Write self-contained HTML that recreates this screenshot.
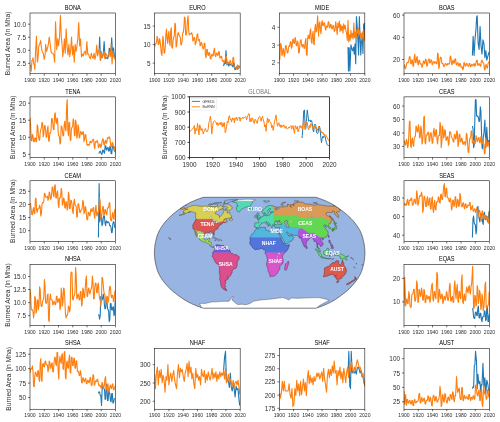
<!DOCTYPE html>
<html><head><meta charset="utf-8"><style>
html,body{margin:0;padding:0;background:#fff;width:500px;height:422px;overflow:hidden}
svg{display:block;will-change:transform}
text{font-family:"Liberation Sans", sans-serif}
</style></head><body>
<svg width="500" height="422" viewBox="0 0 500 422" fill="#2e2e2e" font-family='"Liberation Sans", sans-serif'>
<rect width="500" height="422" fill="#fff"/>
<clipPath id="c_BONA"><rect x="30.00" y="13.00" width="85.50" height="60.75"/></clipPath>
<g clip-path="url(#c_BONA)">
<polyline points="99.10,51.40 99.64,37.00 100.54,60.40 101.44,53.20 102.34,57.70 103.24,54.10 104.14,41.50 105.04,56.80 105.94,58.60 106.84,57.70 107.74,58.60 108.64,55.00 109.27,48.36 109.90,48.70 110.80,55.90 111.70,37.90 112.60,56.80 113.50,47.80 114.40,55.90 115.12,57.70" fill="none" stroke="#1f77b4" stroke-width="1.10" stroke-linejoin="round" stroke-linecap="butt"/>
<polyline points="30.16,65.80 30.70,65.22 31.24,71.20 31.96,60.40 32.50,60.23 33.04,57.70 33.76,64.00 34.30,64.40 34.84,69.40 35.56,51.40 36.46,36.10 37.36,62.20 37.90,59.50 38.80,46.00 39.70,44.20 40.60,40.60 41.50,47.80 42.40,52.30 43.30,53.20 44.20,59.50 45.10,55.00 45.64,44.20 46.54,51.40 47.44,48.70 48.34,44.20 49.24,37.00 50.14,43.30 51.04,51.40 51.94,53.20 52.84,53.20 53.74,55.00 54.64,62.20 55.54,21.70 56.26,38.80 56.80,49.60 57.70,38.80 58.60,46.00 59.50,37.00 60.40,15.40 61.30,37.00 62.20,46.00 62.74,56.80 63.64,49.60 64.36,38.80 65.26,53.20 66.16,28.90 67.06,46.00 67.96,55.00 68.86,44.20 69.76,56.80 70.66,49.60 71.56,37.00 72.46,55.00 73.36,46.00 74.26,62.20 75.16,44.20 76.06,51.40 76.96,46.00 77.86,37.90 78.76,22.60 79.66,46.00 80.56,38.80 81.46,56.80 82.36,54.10 83.26,55.90 84.16,52.30 85.06,51.40 85.96,55.00 86.86,41.50 87.76,54.10 88.66,54.10 89.56,57.70 90.46,58.60 91.36,53.20 92.26,56.80 93.16,58.60 94.06,53.20 94.96,59.50 95.86,55.00 96.76,45.10 97.66,55.90 98.56,51.40 99.46,48.70 100.36,60.40 101.26,51.40 102.16,57.70 103.06,55.00 103.96,51.40 104.86,58.60 105.76,53.20 106.66,55.00 107.56,57.70 108.46,55.00 109.36,52.30 110.26,56.80 111.16,44.20 112.06,64.00 112.96,50.50 113.86,56.80 114.76,59.50" fill="none" stroke="#ff7f0e" stroke-width="1.10" stroke-linejoin="round" stroke-linecap="butt"/>
</g>
<rect x="30.00" y="13.00" width="85.50" height="60.75" fill="none" stroke="#000" stroke-width="0.55"/>
<line x1="28.00" y1="24.20" x2="30.00" y2="24.20" stroke="#000" stroke-width="0.55"/>
<text x="26.00" y="26.79" font-size="6.40" text-anchor="end">10.0</text>
<line x1="28.00" y1="37.20" x2="30.00" y2="37.20" stroke="#000" stroke-width="0.55"/>
<text x="26.00" y="39.79" font-size="6.40" text-anchor="end">7.5</text>
<line x1="28.00" y1="50.30" x2="30.00" y2="50.30" stroke="#000" stroke-width="0.55"/>
<text x="26.00" y="52.89" font-size="6.40" text-anchor="end">5.0</text>
<line x1="28.00" y1="63.30" x2="30.00" y2="63.30" stroke="#000" stroke-width="0.55"/>
<text x="26.00" y="65.89" font-size="6.40" text-anchor="end">2.5</text>
<line x1="30.00" y1="73.75" x2="30.00" y2="75.75" stroke="#000" stroke-width="0.55"/>
<text x="30.00" y="81.98" font-size="5.10" text-anchor="middle">1900</text>
<line x1="44.25" y1="73.75" x2="44.25" y2="75.75" stroke="#000" stroke-width="0.55"/>
<text x="44.25" y="81.98" font-size="5.10" text-anchor="middle">1920</text>
<line x1="58.50" y1="73.75" x2="58.50" y2="75.75" stroke="#000" stroke-width="0.55"/>
<text x="58.50" y="81.98" font-size="5.10" text-anchor="middle">1940</text>
<line x1="72.75" y1="73.75" x2="72.75" y2="75.75" stroke="#000" stroke-width="0.55"/>
<text x="72.75" y="81.98" font-size="5.10" text-anchor="middle">1960</text>
<line x1="87.00" y1="73.75" x2="87.00" y2="75.75" stroke="#000" stroke-width="0.55"/>
<text x="87.00" y="81.98" font-size="5.10" text-anchor="middle">1980</text>
<line x1="101.25" y1="73.75" x2="101.25" y2="75.75" stroke="#000" stroke-width="0.55"/>
<text x="101.25" y="81.98" font-size="5.10" text-anchor="middle">2000</text>
<line x1="115.50" y1="73.75" x2="115.50" y2="75.75" stroke="#000" stroke-width="0.55"/>
<text x="115.50" y="81.98" font-size="5.10" text-anchor="middle">2020</text>
<text x="0" y="0" font-size="6.3" text-anchor="middle" fill="#000" transform="translate(72.75,9.80) scale(0.9,1)">BONA</text>
<text x="0" y="0" font-size="6.7" text-anchor="middle" transform="translate(9.55,43.38) rotate(-90)">Burned Area (in Mha)</text>
<clipPath id="c_EURO"><rect x="154.67" y="13.00" width="85.50" height="60.75"/></clipPath>
<g clip-path="url(#c_EURO)">
<polyline points="223.60,66.20 224.20,63.09 224.80,63.80 225.40,63.30 226.00,50.60 226.96,65.00 227.92,62.60 228.88,66.20 229.48,63.70 230.08,63.80 230.68,65.00 231.28,65.00 231.88,64.78 232.48,66.20 233.08,67.01 233.68,62.60 234.28,64.29 234.88,69.80 235.48,69.58 236.08,67.40 236.68,66.91 237.28,68.60 237.88,69.22 238.48,66.20 239.08,66.04 239.68,67.40" fill="none" stroke="#1f77b4" stroke-width="1.10" stroke-linejoin="round" stroke-linecap="butt"/>
<polyline points="154.72,47.00 155.32,43.58 155.92,43.40 156.52,42.42 157.12,36.20 157.72,38.68 158.32,44.60 158.92,44.30 159.52,38.60 160.12,40.97 160.72,47.00 161.32,53.36 161.92,55.40 162.88,36.20 163.48,40.21 164.08,53.00 164.68,52.92 165.28,47.00 165.88,34.25 166.48,29.00 167.08,38.94 167.68,43.40 168.28,34.79 168.88,31.40 169.48,42.18 170.08,45.80 170.68,30.65 171.28,27.80 171.88,47.63 172.48,48.20 173.08,40.38 173.68,37.40 174.28,35.98 174.88,23.00 175.48,24.77 176.08,47.00 176.68,45.69 177.28,38.60 177.88,33.32 178.48,32.60 179.08,35.38 179.68,36.20 180.28,37.31 180.88,44.60 181.48,44.82 182.08,41.00 182.68,32.85 183.28,32.60 183.88,27.83 184.48,17.00 185.08,17.82 185.68,35.00 186.28,34.83 186.88,30.20 187.48,19.79 188.08,15.80 188.68,30.19 189.28,35.00 189.88,33.85 190.48,33.80 191.08,34.03 191.68,32.60 192.28,34.68 192.88,41.00 193.48,40.29 194.08,37.40 194.68,37.69 195.28,44.60 195.88,43.35 196.48,39.80 197.08,34.67 197.68,33.80 198.28,40.48 198.88,39.80 199.48,39.52 200.08,45.80 200.68,45.40 201.28,42.20 201.88,43.48 202.48,47.00 203.08,48.93 203.68,48.20 204.28,43.04 204.88,43.40 205.48,55.93 206.08,57.80 206.68,49.55 207.28,49.40 207.88,54.82 208.48,55.40 209.08,52.46 209.68,53.00 210.28,58.42 210.88,59.00 211.48,55.34 212.08,54.20 212.68,56.10 213.28,55.40 213.88,50.28 214.48,48.20 215.08,55.40 215.68,56.60 216.28,53.56 216.88,53.00 217.48,55.14 218.08,55.40 218.68,51.56 219.28,51.80 219.88,58.00 220.48,57.80 221.08,56.31 221.68,56.60 222.28,60.81 222.88,61.40 223.48,60.63 224.08,62.60 224.68,61.90 225.28,59.00 225.88,56.54 226.48,56.60 227.08,64.06 227.68,63.80 228.28,62.05 228.88,62.60 229.48,63.43 230.08,60.20 230.68,61.03 231.28,65.00 231.88,64.61 232.48,62.60 233.08,57.20 233.68,57.80 234.28,67.53 234.88,67.40 235.48,67.45 236.08,68.60 236.68,69.17 237.28,65.00 237.88,65.01 238.48,67.40 239.08,68.06 239.68,66.20" fill="none" stroke="#ff7f0e" stroke-width="1.10" stroke-linejoin="round" stroke-linecap="butt"/>
</g>
<rect x="154.67" y="13.00" width="85.50" height="60.75" fill="none" stroke="#000" stroke-width="0.55"/>
<line x1="152.67" y1="26.10" x2="154.67" y2="26.10" stroke="#000" stroke-width="0.55"/>
<text x="150.67" y="28.69" font-size="6.40" text-anchor="end">15</text>
<line x1="152.67" y1="44.60" x2="154.67" y2="44.60" stroke="#000" stroke-width="0.55"/>
<text x="150.67" y="47.19" font-size="6.40" text-anchor="end">10</text>
<line x1="152.67" y1="63.10" x2="154.67" y2="63.10" stroke="#000" stroke-width="0.55"/>
<text x="150.67" y="65.69" font-size="6.40" text-anchor="end">5</text>
<line x1="154.67" y1="73.75" x2="154.67" y2="75.75" stroke="#000" stroke-width="0.55"/>
<text x="154.67" y="81.98" font-size="5.10" text-anchor="middle">1900</text>
<line x1="168.92" y1="73.75" x2="168.92" y2="75.75" stroke="#000" stroke-width="0.55"/>
<text x="168.92" y="81.98" font-size="5.10" text-anchor="middle">1920</text>
<line x1="183.17" y1="73.75" x2="183.17" y2="75.75" stroke="#000" stroke-width="0.55"/>
<text x="183.17" y="81.98" font-size="5.10" text-anchor="middle">1940</text>
<line x1="197.42" y1="73.75" x2="197.42" y2="75.75" stroke="#000" stroke-width="0.55"/>
<text x="197.42" y="81.98" font-size="5.10" text-anchor="middle">1960</text>
<line x1="211.67" y1="73.75" x2="211.67" y2="75.75" stroke="#000" stroke-width="0.55"/>
<text x="211.67" y="81.98" font-size="5.10" text-anchor="middle">1980</text>
<line x1="225.92" y1="73.75" x2="225.92" y2="75.75" stroke="#000" stroke-width="0.55"/>
<text x="225.92" y="81.98" font-size="5.10" text-anchor="middle">2000</text>
<line x1="240.17" y1="73.75" x2="240.17" y2="75.75" stroke="#000" stroke-width="0.55"/>
<text x="240.17" y="81.98" font-size="5.10" text-anchor="middle">2020</text>
<text x="0" y="0" font-size="6.3" text-anchor="middle" fill="#000" transform="translate(197.42,9.80) scale(0.9,1)">EURO</text>
<clipPath id="c_MIDE"><rect x="279.33" y="13.00" width="85.50" height="60.75"/></clipPath>
<g clip-path="url(#c_MIDE)">
<polyline points="348.03,47.03 348.47,70.92 349.19,47.75 349.91,70.92 350.93,44.86 351.94,49.20 352.67,50.65 353.53,47.03 354.26,54.27 354.98,44.13 355.71,63.68 356.43,16.62 357.15,26.03 357.88,39.06 358.60,54.99 359.33,16.62 360.05,37.62 360.77,54.99 361.50,39.06 362.22,33.27 362.95,53.54 363.67,24.58 364.39,23.14 364.97,38.34" fill="none" stroke="#1f77b4" stroke-width="1.10" stroke-linejoin="round" stroke-linecap="butt"/>
<polyline points="279.72,60.20 280.68,43.40 281.28,44.85 281.88,55.40 282.48,54.15 283.08,48.20 283.68,50.36 284.28,56.60 284.88,53.89 285.48,45.80 286.08,45.63 286.68,49.40 287.28,52.99 287.88,53.00 288.48,47.84 289.08,45.80 289.68,46.32 290.28,42.20 290.88,41.64 291.48,48.20 292.08,46.56 292.68,39.80 293.28,39.01 293.88,43.40 294.48,43.44 295.08,37.40 295.68,39.81 296.28,45.80 296.88,45.61 297.48,41.00 298.08,43.39 298.68,53.00 299.28,52.66 299.88,44.60 300.48,40.08 301.08,39.80 301.68,45.41 302.28,47.00 302.88,44.82 303.48,44.60 304.08,48.46 304.68,48.20 305.28,41.10 305.88,38.60 306.48,54.44 307.08,55.40 307.68,38.14 308.28,35.00 308.88,38.46 309.48,38.60 310.08,30.97 310.68,29.00 311.28,41.30 311.88,43.40 312.48,34.73 313.08,31.40 313.68,44.08 314.28,44.60 314.88,28.59 315.48,24.20 316.08,31.97 316.68,31.40 317.64,15.80 318.60,36.20 319.20,23.82 319.80,21.80 320.40,30.21 321.00,33.80 321.60,23.38 322.20,20.60 322.80,25.73 323.40,25.40 324.00,22.63 324.60,23.00 325.20,28.39 325.80,30.20 326.40,25.81 327.00,26.60 327.60,27.24 328.20,21.80 328.80,21.76 329.40,27.80 330.00,27.62 330.60,24.20 331.20,24.96 331.80,29.00 332.40,28.75 333.00,25.40 333.60,25.89 334.20,31.40 335.00,30.38 335.72,21.69 336.45,27.48 337.17,34.72 337.90,23.14 338.62,27.48 339.34,20.96 340.07,31.82 340.79,24.58 341.52,30.38 342.24,26.03 342.96,33.27 343.69,23.86 344.41,28.93 345.14,25.31 345.86,30.38 346.58,33.27 347.31,40.51 348.03,20.24 348.76,41.96 349.48,34.72 350.20,40.51 350.93,30.38 351.65,37.62 352.38,33.27 353.10,39.06 353.82,23.14 354.55,37.62 355.27,31.82 356.00,38.34 356.72,30.38 357.44,33.27 358.17,28.20 358.89,34.72 359.62,30.38 360.34,36.89 361.06,33.27 361.79,40.51 362.51,31.82 363.24,38.34 363.96,28.93 364.68,40.51 364.92,33.80" fill="none" stroke="#ff7f0e" stroke-width="1.10" stroke-linejoin="round" stroke-linecap="butt"/>
</g>
<rect x="279.33" y="13.00" width="85.50" height="60.75" fill="none" stroke="#000" stroke-width="0.55"/>
<line x1="277.33" y1="27.30" x2="279.33" y2="27.30" stroke="#000" stroke-width="0.55"/>
<text x="275.33" y="29.89" font-size="6.40" text-anchor="end">4</text>
<line x1="277.33" y1="45.10" x2="279.33" y2="45.10" stroke="#000" stroke-width="0.55"/>
<text x="275.33" y="47.69" font-size="6.40" text-anchor="end">3</text>
<line x1="277.33" y1="62.80" x2="279.33" y2="62.80" stroke="#000" stroke-width="0.55"/>
<text x="275.33" y="65.39" font-size="6.40" text-anchor="end">2</text>
<line x1="279.33" y1="73.75" x2="279.33" y2="75.75" stroke="#000" stroke-width="0.55"/>
<text x="279.33" y="81.98" font-size="5.10" text-anchor="middle">1900</text>
<line x1="293.58" y1="73.75" x2="293.58" y2="75.75" stroke="#000" stroke-width="0.55"/>
<text x="293.58" y="81.98" font-size="5.10" text-anchor="middle">1920</text>
<line x1="307.83" y1="73.75" x2="307.83" y2="75.75" stroke="#000" stroke-width="0.55"/>
<text x="307.83" y="81.98" font-size="5.10" text-anchor="middle">1940</text>
<line x1="322.08" y1="73.75" x2="322.08" y2="75.75" stroke="#000" stroke-width="0.55"/>
<text x="322.08" y="81.98" font-size="5.10" text-anchor="middle">1960</text>
<line x1="336.33" y1="73.75" x2="336.33" y2="75.75" stroke="#000" stroke-width="0.55"/>
<text x="336.33" y="81.98" font-size="5.10" text-anchor="middle">1980</text>
<line x1="350.58" y1="73.75" x2="350.58" y2="75.75" stroke="#000" stroke-width="0.55"/>
<text x="350.58" y="81.98" font-size="5.10" text-anchor="middle">2000</text>
<line x1="364.83" y1="73.75" x2="364.83" y2="75.75" stroke="#000" stroke-width="0.55"/>
<text x="364.83" y="81.98" font-size="5.10" text-anchor="middle">2020</text>
<text x="0" y="0" font-size="6.3" text-anchor="middle" fill="#000" transform="translate(322.08,9.80) scale(0.9,1)">MIDE</text>
<clipPath id="c_BOAS"><rect x="404.00" y="13.00" width="85.50" height="60.75"/></clipPath>
<g clip-path="url(#c_BOAS)">
<polyline points="472.40,55.40 473.12,36.20 474.08,55.40 475.04,38.60 476.00,29.00 476.60,17.27 477.20,15.80 478.16,43.40 479.12,49.40 480.08,26.60 481.04,45.80 482.00,54.20 482.96,39.80 483.92,43.40 484.88,57.80 485.84,50.60 486.80,60.20 487.76,56.60 488.72,53.00 489.44,51.80" fill="none" stroke="#1f77b4" stroke-width="1.10" stroke-linejoin="round" stroke-linecap="butt"/>
<polyline points="404.00,65.00 404.60,65.07 405.20,68.60 405.80,67.91 406.40,65.00 407.00,62.40 407.60,62.60 408.20,62.68 408.80,60.20 409.40,56.73 410.00,56.60 410.60,63.36 411.20,63.80 411.80,59.76 412.40,60.20 413.00,66.29 413.60,66.20 414.20,57.11 414.80,54.20 415.40,62.57 416.00,62.60 416.60,57.77 417.20,56.60 417.80,64.00 418.40,65.00 419.00,60.18 419.60,60.20 420.20,64.13 420.80,63.80 421.40,63.82 422.00,67.40 422.60,65.80 423.20,61.40 423.80,60.84 424.40,63.80 425.00,62.86 425.60,59.00 426.20,59.93 426.80,66.20 427.40,65.45 428.00,61.40 428.60,59.02 429.20,59.00 429.80,63.11 430.40,62.60 431.00,59.74 431.60,60.20 432.20,64.60 432.80,63.80 433.40,61.68 434.00,61.40 434.60,63.12 435.20,62.60 435.80,61.93 436.40,63.80 437.00,63.62 437.60,53.00 438.20,53.94 438.80,68.60 439.40,66.31 440.00,59.00 440.60,57.17 441.20,57.80 441.80,62.93 442.40,63.80 443.00,63.44 443.60,66.20 444.20,66.59 444.80,65.00 445.40,63.59 446.00,63.80 446.60,65.18 447.20,65.00 447.80,63.39 448.40,63.80 449.00,64.20 449.60,63.80 450.20,56.00 450.80,56.60 451.40,62.53 452.00,65.00 452.60,60.93 453.20,60.20 453.80,63.48 454.40,62.60 455.00,58.78 455.60,59.00 456.20,64.64 456.80,65.00 457.40,62.98 458.00,62.60 458.60,65.75 459.20,66.20 459.80,63.31 460.40,63.80 461.00,67.16 461.60,67.40 462.20,66.87 462.80,69.80 463.40,68.25 464.00,62.60 464.60,62.88 465.20,66.20 465.80,65.87 466.40,63.80 467.00,63.29 467.60,65.00 468.20,66.39 468.80,66.20 469.40,63.42 470.00,63.80 470.60,66.70 471.20,66.20 471.80,64.21 472.40,65.00 473.00,65.90 473.60,63.80 474.20,63.68 474.80,66.20 475.40,65.70 476.00,62.60 476.60,60.31 477.20,60.20 477.80,65.39 478.40,65.00 479.00,63.67 479.60,63.80 480.20,66.15 480.80,66.20 481.40,60.77 482.00,60.20 482.60,62.20 483.20,62.60 483.80,63.44 484.40,69.80 485.00,69.82 485.60,65.00 486.20,64.58 486.80,67.40 487.40,68.14 488.00,63.80 488.60,62.10 489.20,62.60" fill="none" stroke="#ff7f0e" stroke-width="1.10" stroke-linejoin="round" stroke-linecap="butt"/>
</g>
<rect x="404.00" y="13.00" width="85.50" height="60.75" fill="none" stroke="#000" stroke-width="0.55"/>
<line x1="402.00" y1="15.10" x2="404.00" y2="15.10" stroke="#000" stroke-width="0.55"/>
<text x="400.00" y="17.69" font-size="6.40" text-anchor="end">60</text>
<line x1="402.00" y1="37.30" x2="404.00" y2="37.30" stroke="#000" stroke-width="0.55"/>
<text x="400.00" y="39.89" font-size="6.40" text-anchor="end">40</text>
<line x1="402.00" y1="59.50" x2="404.00" y2="59.50" stroke="#000" stroke-width="0.55"/>
<text x="400.00" y="62.09" font-size="6.40" text-anchor="end">20</text>
<line x1="404.00" y1="73.75" x2="404.00" y2="75.75" stroke="#000" stroke-width="0.55"/>
<text x="404.00" y="81.98" font-size="5.10" text-anchor="middle">1900</text>
<line x1="418.25" y1="73.75" x2="418.25" y2="75.75" stroke="#000" stroke-width="0.55"/>
<text x="418.25" y="81.98" font-size="5.10" text-anchor="middle">1920</text>
<line x1="432.50" y1="73.75" x2="432.50" y2="75.75" stroke="#000" stroke-width="0.55"/>
<text x="432.50" y="81.98" font-size="5.10" text-anchor="middle">1940</text>
<line x1="446.75" y1="73.75" x2="446.75" y2="75.75" stroke="#000" stroke-width="0.55"/>
<text x="446.75" y="81.98" font-size="5.10" text-anchor="middle">1960</text>
<line x1="461.00" y1="73.75" x2="461.00" y2="75.75" stroke="#000" stroke-width="0.55"/>
<text x="461.00" y="81.98" font-size="5.10" text-anchor="middle">1980</text>
<line x1="475.25" y1="73.75" x2="475.25" y2="75.75" stroke="#000" stroke-width="0.55"/>
<text x="475.25" y="81.98" font-size="5.10" text-anchor="middle">2000</text>
<line x1="489.50" y1="73.75" x2="489.50" y2="75.75" stroke="#000" stroke-width="0.55"/>
<text x="489.50" y="81.98" font-size="5.10" text-anchor="middle">2020</text>
<text x="0" y="0" font-size="6.3" text-anchor="middle" fill="#000" transform="translate(446.75,9.80) scale(0.9,1)">BOAS</text>
<clipPath id="c_TENA"><rect x="30.00" y="96.88" width="85.50" height="60.75"/></clipPath>
<g clip-path="url(#c_TENA)">
<polyline points="98.88,153.60 99.60,151.63 100.32,151.20 101.28,153.60 102.00,154.37 102.72,150.00 103.32,150.21 103.92,152.40 104.52,153.09 105.12,146.40 105.72,145.67 106.32,150.00 106.92,149.88 107.52,147.60 108.12,147.60 108.72,151.20 109.32,150.72 109.92,146.40 110.52,147.39 111.12,153.60 111.72,153.79 112.32,147.60 112.92,145.63 113.52,146.40 114.12,150.43 114.72,151.20 115.68,152.40" fill="none" stroke="#1f77b4" stroke-width="1.10" stroke-linejoin="round" stroke-linecap="butt"/>
<polyline points="30.00,117.60 30.60,124.52 31.20,140.40 31.80,140.93 32.40,134.40 33.00,135.49 33.60,141.60 34.20,141.87 34.80,138.00 35.40,137.81 36.00,141.60 36.60,141.60 37.20,124.80 37.80,126.52 38.40,135.60 39.00,139.44 39.60,140.40 40.20,132.49 40.80,129.60 41.40,127.60 42.00,122.40 42.60,123.39 43.20,136.80 43.80,134.10 44.40,126.00 45.00,125.48 45.60,129.60 46.20,137.35 46.80,136.80 47.40,129.33 48.00,126.00 48.60,140.30 49.20,141.60 49.80,132.72 50.40,133.20 51.00,130.42 51.60,118.80 52.20,118.52 52.80,123.60 53.40,129.39 54.00,129.60 54.60,114.45 55.20,112.80 55.80,120.95 56.40,123.60 57.00,118.10 57.60,118.80 58.20,132.63 58.80,135.60 59.40,136.83 60.00,144.00 60.60,142.73 61.20,126.00 61.80,126.20 62.40,130.80 63.00,136.01 63.60,135.60 64.20,124.85 64.80,121.20 65.40,128.80 66.00,130.80 66.60,107.15 67.20,99.60 67.80,129.91 68.40,135.60 69.00,122.76 69.60,122.40 70.20,140.15 70.80,140.40 71.40,128.99 72.00,127.20 72.60,126.83 73.20,118.80 73.80,120.70 74.40,135.60 75.00,135.26 75.60,120.00 76.20,123.16 76.80,138.00 77.40,136.15 78.00,124.80 78.60,127.44 79.20,138.00 79.80,137.08 80.40,132.00 81.00,131.38 81.60,134.40 82.20,134.37 82.80,132.00 83.40,131.80 84.00,141.60 84.60,139.50 85.20,134.40 85.80,134.62 86.40,140.40 87.00,145.17 87.60,145.20 88.20,144.47 88.80,145.20 89.40,145.01 90.00,141.60 90.60,141.20 91.20,142.80 91.80,142.37 92.40,140.40 93.00,139.26 93.60,139.20 94.20,146.25 94.80,148.80 95.40,141.82 96.00,141.60 96.60,142.07 97.20,140.40 97.80,142.22 98.40,147.60 99.00,146.72 99.60,144.00 100.20,144.13 100.80,147.60 101.40,146.48 102.00,141.60 102.60,138.84 103.20,139.20 103.80,144.17 104.40,145.20 105.00,141.42 105.60,140.40 106.20,143.52 106.80,142.80 107.40,137.71 108.00,138.00 108.60,138.28 109.20,136.80 109.80,137.76 110.40,142.80 111.00,146.57 111.60,146.40 112.20,142.55 112.80,142.80 113.40,146.60 114.00,146.40 114.60,147.10 115.20,151.20" fill="none" stroke="#ff7f0e" stroke-width="1.10" stroke-linejoin="round" stroke-linecap="butt"/>
</g>
<rect x="30.00" y="96.88" width="85.50" height="60.75" fill="none" stroke="#000" stroke-width="0.55"/>
<line x1="28.00" y1="103.20" x2="30.00" y2="103.20" stroke="#000" stroke-width="0.55"/>
<text x="26.00" y="105.79" font-size="6.40" text-anchor="end">20</text>
<line x1="28.00" y1="120.20" x2="30.00" y2="120.20" stroke="#000" stroke-width="0.55"/>
<text x="26.00" y="122.79" font-size="6.40" text-anchor="end">15</text>
<line x1="28.00" y1="137.30" x2="30.00" y2="137.30" stroke="#000" stroke-width="0.55"/>
<text x="26.00" y="139.89" font-size="6.40" text-anchor="end">10</text>
<line x1="28.00" y1="154.30" x2="30.00" y2="154.30" stroke="#000" stroke-width="0.55"/>
<text x="26.00" y="156.89" font-size="6.40" text-anchor="end">5</text>
<line x1="30.00" y1="157.62" x2="30.00" y2="159.62" stroke="#000" stroke-width="0.55"/>
<text x="30.00" y="165.85" font-size="5.10" text-anchor="middle">1900</text>
<line x1="44.25" y1="157.62" x2="44.25" y2="159.62" stroke="#000" stroke-width="0.55"/>
<text x="44.25" y="165.85" font-size="5.10" text-anchor="middle">1920</text>
<line x1="58.50" y1="157.62" x2="58.50" y2="159.62" stroke="#000" stroke-width="0.55"/>
<text x="58.50" y="165.85" font-size="5.10" text-anchor="middle">1940</text>
<line x1="72.75" y1="157.62" x2="72.75" y2="159.62" stroke="#000" stroke-width="0.55"/>
<text x="72.75" y="165.85" font-size="5.10" text-anchor="middle">1960</text>
<line x1="87.00" y1="157.62" x2="87.00" y2="159.62" stroke="#000" stroke-width="0.55"/>
<text x="87.00" y="165.85" font-size="5.10" text-anchor="middle">1980</text>
<line x1="101.25" y1="157.62" x2="101.25" y2="159.62" stroke="#000" stroke-width="0.55"/>
<text x="101.25" y="165.85" font-size="5.10" text-anchor="middle">2000</text>
<line x1="115.50" y1="157.62" x2="115.50" y2="159.62" stroke="#000" stroke-width="0.55"/>
<text x="115.50" y="165.85" font-size="5.10" text-anchor="middle">2020</text>
<text x="0" y="0" font-size="6.3" text-anchor="middle" fill="#000" transform="translate(72.75,93.67) scale(0.9,1)">TENA</text>
<text x="0" y="0" font-size="6.7" text-anchor="middle" transform="translate(14.88,127.25) rotate(-90)">Burned Area (in Mha)</text>
<clipPath id="c_CEAS"><rect x="404.00" y="96.88" width="85.50" height="60.75"/></clipPath>
<g clip-path="url(#c_CEAS)">
<polyline points="472.40,126.00 473.00,128.46 473.60,147.60 474.20,145.05 474.80,121.20 475.40,99.84 476.00,99.60 476.60,115.61 477.20,116.40 477.80,116.07 478.40,117.60 479.00,121.44 479.60,121.20 480.32,106.80 480.92,111.47 481.52,133.20 482.12,147.65 482.72,148.80 483.32,136.81 483.92,133.20 484.88,120.00 485.84,147.60 486.80,127.20 487.76,145.20 488.72,140.40 489.44,141.60" fill="none" stroke="#1f77b4" stroke-width="1.10" stroke-linejoin="round" stroke-linecap="butt"/>
<polyline points="404.00,140.40 404.60,141.63 405.20,145.20 405.80,144.17 406.40,139.20 407.00,141.41 407.60,147.60 408.20,145.73 408.80,135.60 409.40,121.75 410.00,121.20 410.60,145.86 411.20,147.60 411.80,139.30 412.40,138.00 413.00,144.42 413.60,146.40 414.20,138.60 414.80,136.80 415.40,136.57 416.00,126.00 416.60,127.56 417.20,132.00 417.80,131.60 418.40,124.80 419.00,127.99 419.60,138.00 420.20,137.06 420.80,126.00 421.40,128.79 422.00,144.00 422.60,141.76 423.20,133.20 423.80,117.16 424.40,116.40 425.00,142.41 425.60,144.00 426.20,136.03 426.80,134.40 427.40,134.88 428.00,132.00 428.60,132.54 429.20,141.60 429.80,140.51 430.40,133.20 431.00,132.61 431.60,136.80 432.20,143.33 432.80,142.80 433.40,131.26 434.00,128.40 434.60,135.30 435.20,136.80 435.80,130.04 436.40,129.60 437.00,139.45 437.60,144.00 438.20,136.57 438.80,135.60 439.40,135.74 440.00,122.40 440.60,125.40 441.20,147.60 441.80,142.93 442.40,126.00 443.00,128.52 443.60,138.00 444.20,136.10 444.80,129.60 445.40,131.04 446.00,140.40 446.60,139.52 447.20,136.80 447.80,136.88 448.40,145.20 449.00,143.46 449.60,132.00 450.20,131.74 450.80,133.20 451.40,137.20 452.00,138.00 452.60,138.69 453.20,141.60 453.80,142.13 454.40,134.40 455.00,134.28 455.60,139.20 456.20,138.30 456.80,130.80 457.40,132.12 458.00,146.40 458.60,144.31 459.20,134.40 459.80,134.19 460.40,141.60 461.00,141.90 461.60,138.00 462.20,139.23 462.80,144.00 463.40,144.23 464.00,141.60 464.60,141.96 465.20,145.20 465.80,143.49 466.40,133.20 467.00,134.82 467.60,144.00 468.20,152.27 468.80,152.40 469.40,141.16 470.00,138.00 470.60,137.87 471.20,130.80 471.80,131.64 472.40,142.80 473.00,143.28 473.60,140.40 474.20,141.02 474.80,144.00 475.40,142.93 476.00,135.60 476.60,137.24 477.20,141.60 477.80,140.72 478.40,138.00 479.00,137.51 479.60,142.80 480.20,142.90 480.80,136.80 481.40,137.67 482.00,140.40 482.60,143.68 483.20,144.00 483.80,144.12 484.40,153.60 485.00,153.72 485.60,138.00 486.20,140.39 486.80,146.40 487.40,146.20 488.00,141.60 488.60,142.97 489.20,147.60" fill="none" stroke="#ff7f0e" stroke-width="1.10" stroke-linejoin="round" stroke-linecap="butt"/>
</g>
<rect x="404.00" y="96.88" width="85.50" height="60.75" fill="none" stroke="#000" stroke-width="0.55"/>
<line x1="402.00" y1="106.10" x2="404.00" y2="106.10" stroke="#000" stroke-width="0.55"/>
<text x="400.00" y="108.69" font-size="6.40" text-anchor="end">60</text>
<line x1="402.00" y1="119.50" x2="404.00" y2="119.50" stroke="#000" stroke-width="0.55"/>
<text x="400.00" y="122.09" font-size="6.40" text-anchor="end">50</text>
<line x1="402.00" y1="133.00" x2="404.00" y2="133.00" stroke="#000" stroke-width="0.55"/>
<text x="400.00" y="135.59" font-size="6.40" text-anchor="end">40</text>
<line x1="402.00" y1="146.40" x2="404.00" y2="146.40" stroke="#000" stroke-width="0.55"/>
<text x="400.00" y="148.99" font-size="6.40" text-anchor="end">30</text>
<line x1="404.00" y1="157.62" x2="404.00" y2="159.62" stroke="#000" stroke-width="0.55"/>
<text x="404.00" y="165.85" font-size="5.10" text-anchor="middle">1900</text>
<line x1="418.25" y1="157.62" x2="418.25" y2="159.62" stroke="#000" stroke-width="0.55"/>
<text x="418.25" y="165.85" font-size="5.10" text-anchor="middle">1920</text>
<line x1="432.50" y1="157.62" x2="432.50" y2="159.62" stroke="#000" stroke-width="0.55"/>
<text x="432.50" y="165.85" font-size="5.10" text-anchor="middle">1940</text>
<line x1="446.75" y1="157.62" x2="446.75" y2="159.62" stroke="#000" stroke-width="0.55"/>
<text x="446.75" y="165.85" font-size="5.10" text-anchor="middle">1960</text>
<line x1="461.00" y1="157.62" x2="461.00" y2="159.62" stroke="#000" stroke-width="0.55"/>
<text x="461.00" y="165.85" font-size="5.10" text-anchor="middle">1980</text>
<line x1="475.25" y1="157.62" x2="475.25" y2="159.62" stroke="#000" stroke-width="0.55"/>
<text x="475.25" y="165.85" font-size="5.10" text-anchor="middle">2000</text>
<line x1="489.50" y1="157.62" x2="489.50" y2="159.62" stroke="#000" stroke-width="0.55"/>
<text x="489.50" y="165.85" font-size="5.10" text-anchor="middle">2020</text>
<text x="0" y="0" font-size="6.3" text-anchor="middle" fill="#000" transform="translate(446.75,93.67) scale(0.9,1)">CEAS</text>
<clipPath id="c_CEAM"><rect x="30.00" y="180.75" width="85.50" height="60.75"/></clipPath>
<g clip-path="url(#c_CEAM)">
<polyline points="98.40,237.60 99.12,183.60 99.84,222.00 100.80,213.60 101.40,214.94 102.00,225.60 102.60,224.55 103.20,218.40 103.80,215.68 104.40,216.00 105.00,222.99 105.60,225.60 106.20,221.38 106.80,220.80 107.40,222.80 108.00,222.00 108.60,222.01 109.20,223.20 109.80,225.77 110.40,225.60 111.00,227.32 111.60,232.80 112.20,232.25 112.80,224.40 113.40,221.62 114.00,222.00 114.60,226.95 115.20,228.00" fill="none" stroke="#1f77b4" stroke-width="1.10" stroke-linejoin="round" stroke-linecap="butt"/>
<polyline points="30.00,204.00 30.60,203.52 31.20,210.00 31.80,214.53 32.40,214.80 33.00,209.60 33.60,207.60 34.20,213.42 34.80,213.60 35.40,199.44 36.00,198.00 36.60,209.57 37.20,212.40 37.80,208.90 38.40,208.80 39.00,208.33 39.60,205.20 40.20,207.18 40.80,216.00 41.40,213.70 42.00,204.00 42.60,202.47 43.20,202.80 43.80,201.71 44.40,193.20 45.00,193.94 45.60,196.80 46.20,197.41 46.80,196.80 47.40,196.23 48.00,200.40 48.60,198.64 49.20,192.00 49.80,193.01 50.40,199.20 51.00,199.13 51.60,194.40 52.20,187.00 52.80,187.20 53.40,194.98 54.00,196.80 54.60,185.82 55.20,184.80 55.80,197.68 56.40,198.00 57.00,192.44 57.60,190.80 58.20,203.70 58.80,207.60 59.40,197.88 60.00,198.00 60.60,196.61 61.20,188.40 61.80,191.19 62.40,205.20 63.00,203.67 63.60,198.00 64.20,199.16 64.80,207.60 65.40,208.24 66.00,201.60 66.60,202.10 67.20,210.00 67.80,207.65 68.40,192.00 69.00,195.34 69.60,208.80 70.20,208.46 70.80,200.40 71.40,200.63 72.00,204.00 72.60,211.23 73.20,213.60 73.80,202.62 74.40,199.20 75.00,205.05 75.60,205.20 76.20,206.60 76.80,217.20 77.40,216.44 78.00,204.00 78.60,203.88 79.20,207.60 79.80,212.42 80.40,212.40 81.00,210.03 81.60,210.00 82.20,208.25 82.80,200.40 83.40,201.82 84.00,213.60 84.60,212.07 85.20,206.40 85.80,207.68 86.40,214.80 87.00,219.77 87.60,219.60 88.20,212.29 88.80,212.40 89.40,215.32 90.00,216.00 90.60,210.02 91.20,208.80 91.80,211.71 92.40,211.20 93.00,207.91 93.60,207.60 94.20,215.35 94.80,218.40 95.40,209.21 96.00,205.20 96.60,214.93 97.20,216.00 97.80,211.93 98.40,212.40 99.00,208.48 99.60,198.00 100.20,200.77 100.80,218.40 101.40,217.23 102.00,213.60 102.60,206.97 103.20,206.40 103.80,214.49 104.40,214.80 105.00,209.42 105.60,210.00 106.20,213.68 106.80,214.80 107.40,208.82 108.00,207.60 108.60,207.74 109.20,202.80 109.80,202.82 110.40,218.40 111.00,220.88 111.60,220.80 112.20,214.70 112.80,212.40 113.40,217.82 114.00,219.60 114.60,210.83 115.20,208.80" fill="none" stroke="#ff7f0e" stroke-width="1.10" stroke-linejoin="round" stroke-linecap="butt"/>
</g>
<rect x="30.00" y="180.75" width="85.50" height="60.75" fill="none" stroke="#000" stroke-width="0.55"/>
<line x1="28.00" y1="191.30" x2="30.00" y2="191.30" stroke="#000" stroke-width="0.55"/>
<text x="26.00" y="193.89" font-size="6.40" text-anchor="end">25</text>
<line x1="28.00" y1="204.40" x2="30.00" y2="204.40" stroke="#000" stroke-width="0.55"/>
<text x="26.00" y="206.99" font-size="6.40" text-anchor="end">20</text>
<line x1="28.00" y1="217.50" x2="30.00" y2="217.50" stroke="#000" stroke-width="0.55"/>
<text x="26.00" y="220.09" font-size="6.40" text-anchor="end">15</text>
<line x1="28.00" y1="230.60" x2="30.00" y2="230.60" stroke="#000" stroke-width="0.55"/>
<text x="26.00" y="233.19" font-size="6.40" text-anchor="end">10</text>
<line x1="30.00" y1="241.50" x2="30.00" y2="243.50" stroke="#000" stroke-width="0.55"/>
<text x="30.00" y="249.73" font-size="5.10" text-anchor="middle">1900</text>
<line x1="44.25" y1="241.50" x2="44.25" y2="243.50" stroke="#000" stroke-width="0.55"/>
<text x="44.25" y="249.73" font-size="5.10" text-anchor="middle">1920</text>
<line x1="58.50" y1="241.50" x2="58.50" y2="243.50" stroke="#000" stroke-width="0.55"/>
<text x="58.50" y="249.73" font-size="5.10" text-anchor="middle">1940</text>
<line x1="72.75" y1="241.50" x2="72.75" y2="243.50" stroke="#000" stroke-width="0.55"/>
<text x="72.75" y="249.73" font-size="5.10" text-anchor="middle">1960</text>
<line x1="87.00" y1="241.50" x2="87.00" y2="243.50" stroke="#000" stroke-width="0.55"/>
<text x="87.00" y="249.73" font-size="5.10" text-anchor="middle">1980</text>
<line x1="101.25" y1="241.50" x2="101.25" y2="243.50" stroke="#000" stroke-width="0.55"/>
<text x="101.25" y="249.73" font-size="5.10" text-anchor="middle">2000</text>
<line x1="115.50" y1="241.50" x2="115.50" y2="243.50" stroke="#000" stroke-width="0.55"/>
<text x="115.50" y="249.73" font-size="5.10" text-anchor="middle">2020</text>
<text x="0" y="0" font-size="6.3" text-anchor="middle" fill="#000" transform="translate(72.75,177.55) scale(0.9,1)">CEAM</text>
<text x="0" y="0" font-size="6.7" text-anchor="middle" transform="translate(14.88,211.12) rotate(-90)">Burned Area (in Mha)</text>
<clipPath id="c_SEAS"><rect x="404.00" y="180.75" width="85.50" height="60.75"/></clipPath>
<g clip-path="url(#c_SEAS)">
<polyline points="472.40,237.60 473.00,218.60 473.60,216.00 474.20,222.81 474.80,224.40 475.40,224.94 476.00,234.00 476.60,230.12 477.20,210.00 477.92,206.40 478.88,217.20 479.84,222.00 480.80,213.60 481.40,213.76 482.00,217.20 482.60,222.34 483.20,224.40 483.80,214.55 484.40,212.40 485.00,219.21 485.60,219.60 486.20,216.53 486.80,216.00 487.40,221.13 488.00,222.00 488.96,212.40 489.44,211.20" fill="none" stroke="#1f77b4" stroke-width="1.10" stroke-linejoin="round" stroke-linecap="butt"/>
<polyline points="404.00,205.20 404.60,203.46 405.20,204.00 405.80,205.48 406.40,205.20 407.00,200.90 407.60,199.20 408.20,204.33 408.80,205.20 409.40,200.00 410.00,200.40 410.60,200.50 411.20,198.00 411.80,198.52 412.40,205.20 413.00,204.95 413.60,202.80 414.20,199.35 414.80,199.20 415.40,203.46 416.00,204.00 416.72,190.80 417.32,194.71 417.92,205.20 418.52,203.76 419.12,198.00 419.72,195.94 420.32,195.60 420.92,196.20 421.52,192.00 422.12,195.31 422.72,212.40 423.32,210.09 423.92,196.80 424.52,196.37 425.12,200.40 425.72,206.36 426.32,206.40 426.92,198.71 427.52,196.80 428.12,205.43 428.72,205.20 429.32,198.58 429.92,198.00 430.52,209.10 431.12,208.80 431.72,199.42 432.32,196.80 432.92,209.23 433.52,212.40 434.12,203.88 434.72,200.40 435.32,209.84 435.92,210.00 436.52,202.19 437.12,201.60 437.72,201.97 438.32,196.80 438.92,197.60 439.52,202.80 440.12,203.13 440.72,194.40 441.32,194.15 441.92,199.20 442.52,199.45 443.12,193.20 443.72,186.42 444.32,183.60 444.92,196.34 445.52,196.80 446.12,187.96 446.72,188.40 447.32,197.59 447.92,198.00 448.52,198.13 449.12,201.60 449.72,201.77 450.32,198.00 450.92,200.63 451.52,210.00 452.12,207.74 452.72,200.40 453.32,199.96 453.92,206.40 454.52,205.68 455.12,196.80 455.72,196.81 456.32,207.60 456.92,205.81 457.52,199.20 458.12,200.19 458.72,206.40 459.32,205.93 459.92,193.20 460.52,196.01 461.12,204.00 461.72,206.63 462.32,206.40 462.92,202.91 463.52,202.80 464.12,207.67 464.72,208.80 465.32,203.75 465.92,204.00 466.52,207.84 467.12,207.60 467.72,205.13 468.32,205.20 468.92,205.76 469.52,202.80 470.12,202.22 470.72,210.00 471.32,209.27 471.92,206.40 472.52,205.65 473.12,211.20 473.72,211.09 474.32,208.80 474.92,208.95 475.52,212.40 476.12,211.53 476.72,207.60 477.32,209.96 477.92,216.00 478.52,215.65 479.12,210.00 479.72,210.68 480.32,213.60 480.92,220.33 481.52,220.80 482.12,210.90 482.72,211.20 483.32,218.53 483.92,218.40 484.52,215.38 485.12,214.80 485.72,218.71 486.32,219.60 486.92,216.51 487.52,217.20 488.12,222.74 488.72,223.20 489.44,210.00" fill="none" stroke="#ff7f0e" stroke-width="1.10" stroke-linejoin="round" stroke-linecap="butt"/>
</g>
<rect x="404.00" y="180.75" width="85.50" height="60.75" fill="none" stroke="#000" stroke-width="0.55"/>
<line x1="402.00" y1="198.00" x2="404.00" y2="198.00" stroke="#000" stroke-width="0.55"/>
<text x="400.00" y="200.59" font-size="6.40" text-anchor="end">80</text>
<line x1="402.00" y1="216.60" x2="404.00" y2="216.60" stroke="#000" stroke-width="0.55"/>
<text x="400.00" y="219.19" font-size="6.40" text-anchor="end">60</text>
<line x1="402.00" y1="235.20" x2="404.00" y2="235.20" stroke="#000" stroke-width="0.55"/>
<text x="400.00" y="237.79" font-size="6.40" text-anchor="end">40</text>
<line x1="404.00" y1="241.50" x2="404.00" y2="243.50" stroke="#000" stroke-width="0.55"/>
<text x="404.00" y="249.73" font-size="5.10" text-anchor="middle">1900</text>
<line x1="418.25" y1="241.50" x2="418.25" y2="243.50" stroke="#000" stroke-width="0.55"/>
<text x="418.25" y="249.73" font-size="5.10" text-anchor="middle">1920</text>
<line x1="432.50" y1="241.50" x2="432.50" y2="243.50" stroke="#000" stroke-width="0.55"/>
<text x="432.50" y="249.73" font-size="5.10" text-anchor="middle">1940</text>
<line x1="446.75" y1="241.50" x2="446.75" y2="243.50" stroke="#000" stroke-width="0.55"/>
<text x="446.75" y="249.73" font-size="5.10" text-anchor="middle">1960</text>
<line x1="461.00" y1="241.50" x2="461.00" y2="243.50" stroke="#000" stroke-width="0.55"/>
<text x="461.00" y="249.73" font-size="5.10" text-anchor="middle">1980</text>
<line x1="475.25" y1="241.50" x2="475.25" y2="243.50" stroke="#000" stroke-width="0.55"/>
<text x="475.25" y="249.73" font-size="5.10" text-anchor="middle">2000</text>
<line x1="489.50" y1="241.50" x2="489.50" y2="243.50" stroke="#000" stroke-width="0.55"/>
<text x="489.50" y="249.73" font-size="5.10" text-anchor="middle">2020</text>
<text x="0" y="0" font-size="6.3" text-anchor="middle" fill="#000" transform="translate(446.75,177.55) scale(0.9,1)">SEAS</text>
<clipPath id="c_NHSA"><rect x="30.00" y="264.62" width="85.50" height="60.75"/></clipPath>
<g clip-path="url(#c_NHSA)">
<polyline points="98.40,314.40 99.00,315.32 99.60,319.20 100.20,315.89 100.80,296.40 101.40,296.21 102.00,300.00 102.60,298.98 103.20,294.00 103.80,296.69 104.40,304.80 105.00,308.84 105.60,308.40 106.20,300.61 106.80,300.00 107.40,307.30 108.00,309.60 108.60,311.00 109.20,321.60 109.80,319.88 110.40,303.60 111.00,303.62 111.60,309.60 112.20,310.24 112.80,307.20 113.40,306.77 114.00,315.60 114.60,314.34 115.20,301.20" fill="none" stroke="#1f77b4" stroke-width="1.10" stroke-linejoin="round" stroke-linecap="butt"/>
<polyline points="30.00,289.20 30.60,294.14 31.20,308.40 31.80,310.19 32.40,309.60 33.00,311.57 33.60,318.00 34.20,312.20 34.80,296.40 35.40,297.71 36.00,313.20 36.60,311.10 37.20,300.00 37.80,299.92 38.40,309.60 39.00,305.54 39.60,286.80 40.20,289.30 40.80,303.60 41.40,306.52 42.00,306.00 42.60,301.05 43.20,300.00 43.80,297.32 44.40,279.60 45.00,286.06 45.60,302.40 46.20,303.36 46.80,302.40 47.40,294.80 48.00,294.00 48.60,319.96 49.20,321.60 49.80,299.40 50.40,294.00 51.00,299.53 51.60,300.00 52.20,300.02 52.80,304.80 53.40,304.41 54.00,301.20 54.60,302.02 55.20,304.80 55.80,304.17 56.40,296.40 57.00,296.25 57.60,302.40 58.20,301.81 58.80,298.80 59.40,298.68 60.00,309.60 60.60,307.22 61.20,288.00 61.80,292.76 62.40,306.00 63.00,302.39 63.60,288.00 64.20,289.05 64.80,298.80 65.40,313.11 66.00,318.00 66.60,315.44 67.20,315.60 67.80,313.11 68.40,306.00 69.00,306.81 69.60,312.00 70.20,308.99 70.80,273.60 71.40,272.07 72.00,272.40 72.60,299.23 73.20,300.00 73.80,296.07 74.40,295.20 75.00,291.82 75.60,267.60 76.20,275.32 76.80,298.80 77.40,297.51 78.00,294.00 78.60,295.56 79.20,300.00 79.80,299.76 80.40,291.60 81.00,291.48 81.60,306.00 82.20,303.83 82.80,288.00 83.40,289.71 84.00,297.60 84.60,297.72 85.20,289.20 85.80,279.48 86.40,276.00 87.00,296.06 87.60,296.40 88.20,289.82 88.80,288.00 89.40,292.78 90.00,294.00 90.60,290.07 91.20,289.20 91.80,286.09 92.40,276.00 93.00,283.08 93.60,298.80 94.20,298.81 94.80,286.80 95.40,282.97 96.00,283.20 96.60,292.51 97.20,292.80 97.80,284.26 98.40,283.20 99.00,293.89 99.60,298.80 100.20,299.70 100.80,306.00 101.40,301.38 102.00,277.20 102.60,278.21 103.20,284.40 103.80,291.14 104.40,294.00 105.00,295.09 105.60,302.40 106.20,302.92 106.80,296.40 107.40,296.77 108.00,302.40 108.60,300.61 109.20,291.60 109.80,286.41 110.40,286.80 111.00,295.24 111.60,297.60 112.20,295.21 112.80,295.20 113.40,301.34 114.00,301.20 114.60,293.04 115.20,290.40" fill="none" stroke="#ff7f0e" stroke-width="1.10" stroke-linejoin="round" stroke-linecap="butt"/>
</g>
<rect x="30.00" y="264.62" width="85.50" height="60.75" fill="none" stroke="#000" stroke-width="0.55"/>
<line x1="28.00" y1="276.50" x2="30.00" y2="276.50" stroke="#000" stroke-width="0.55"/>
<text x="26.00" y="279.09" font-size="6.40" text-anchor="end">15.0</text>
<line x1="28.00" y1="289.50" x2="30.00" y2="289.50" stroke="#000" stroke-width="0.55"/>
<text x="26.00" y="292.09" font-size="6.40" text-anchor="end">12.5</text>
<line x1="28.00" y1="302.60" x2="30.00" y2="302.60" stroke="#000" stroke-width="0.55"/>
<text x="26.00" y="305.19" font-size="6.40" text-anchor="end">10.0</text>
<line x1="28.00" y1="315.60" x2="30.00" y2="315.60" stroke="#000" stroke-width="0.55"/>
<text x="26.00" y="318.19" font-size="6.40" text-anchor="end">7.5</text>
<line x1="30.00" y1="325.38" x2="30.00" y2="327.38" stroke="#000" stroke-width="0.55"/>
<text x="30.00" y="333.60" font-size="5.10" text-anchor="middle">1900</text>
<line x1="44.25" y1="325.38" x2="44.25" y2="327.38" stroke="#000" stroke-width="0.55"/>
<text x="44.25" y="333.60" font-size="5.10" text-anchor="middle">1920</text>
<line x1="58.50" y1="325.38" x2="58.50" y2="327.38" stroke="#000" stroke-width="0.55"/>
<text x="58.50" y="333.60" font-size="5.10" text-anchor="middle">1940</text>
<line x1="72.75" y1="325.38" x2="72.75" y2="327.38" stroke="#000" stroke-width="0.55"/>
<text x="72.75" y="333.60" font-size="5.10" text-anchor="middle">1960</text>
<line x1="87.00" y1="325.38" x2="87.00" y2="327.38" stroke="#000" stroke-width="0.55"/>
<text x="87.00" y="333.60" font-size="5.10" text-anchor="middle">1980</text>
<line x1="101.25" y1="325.38" x2="101.25" y2="327.38" stroke="#000" stroke-width="0.55"/>
<text x="101.25" y="333.60" font-size="5.10" text-anchor="middle">2000</text>
<line x1="115.50" y1="325.38" x2="115.50" y2="327.38" stroke="#000" stroke-width="0.55"/>
<text x="115.50" y="333.60" font-size="5.10" text-anchor="middle">2020</text>
<text x="0" y="0" font-size="6.3" text-anchor="middle" fill="#000" transform="translate(72.75,261.43) scale(0.9,1)">NHSA</text>
<text x="0" y="0" font-size="6.7" text-anchor="middle" transform="translate(9.55,295.00) rotate(-90)">Burned Area (in Mha)</text>
<clipPath id="c_EQAS"><rect x="404.00" y="264.62" width="85.50" height="60.75"/></clipPath>
<g clip-path="url(#c_EQAS)">
<polyline points="472.40,308.40 473.00,310.36 473.60,316.80 474.20,318.51 474.80,318.00 475.40,312.19 476.00,312.00 476.60,315.20 477.20,315.60 477.80,308.34 478.40,306.00 479.00,317.47 479.60,318.00 480.20,313.23 480.80,313.20 481.40,319.65 482.00,321.60 482.60,316.93 483.20,316.80 483.80,316.76 484.40,310.80 485.00,311.31 485.60,320.40 486.20,319.94 486.80,307.20 487.40,307.15 488.00,321.60 488.60,321.37 489.20,314.40" fill="none" stroke="#1f77b4" stroke-width="1.10" stroke-linejoin="round" stroke-linecap="butt"/>
<polyline points="404.00,306.00 404.72,277.20 405.68,306.00 406.28,300.35 406.88,298.80 407.48,303.64 408.08,303.60 408.80,291.60 409.40,295.31 410.00,306.00 410.60,307.32 411.20,307.20 411.80,294.86 412.40,294.00 413.00,293.65 413.60,289.20 414.20,289.33 414.80,301.20 415.40,300.86 416.00,296.40 416.72,280.80 417.32,284.21 417.92,302.40 418.52,301.52 419.12,289.20 419.72,290.56 420.32,296.40 420.92,295.73 421.52,288.00 422.12,291.19 422.72,300.00 423.32,300.25 423.92,289.20 424.52,290.87 425.12,302.40 425.72,302.64 426.32,295.20 426.92,295.36 427.52,298.80 428.12,299.02 428.72,296.40 429.32,296.61 429.92,302.40 430.52,299.85 431.12,290.40 431.72,285.21 432.32,283.20 432.92,299.00 433.52,301.20 434.12,291.87 434.72,291.60 435.32,297.16 435.92,298.80 436.88,272.40 437.48,273.73 438.08,302.40 438.68,301.25 439.28,289.20 439.88,291.52 440.48,298.80 441.08,298.27 441.68,294.00 442.28,294.85 442.88,303.60 443.48,302.07 444.08,296.40 444.68,296.48 445.28,300.00 445.88,297.88 446.48,291.60 447.08,292.97 447.68,300.00 448.28,300.52 448.88,296.40 449.48,285.63 450.08,283.20 450.68,301.04 451.28,301.20 451.88,297.27 452.48,296.40 453.08,302.27 453.68,302.40 454.28,285.98 454.88,280.80 455.48,292.99 456.08,298.80 456.68,288.69 457.28,284.40 457.88,300.93 458.48,302.40 459.08,291.27 459.68,291.60 460.28,298.38 460.88,298.80 461.48,279.94 462.08,274.80 462.68,301.81 463.28,303.60 463.88,296.41 464.48,294.00 465.08,300.58 465.68,300.00 466.28,289.95 466.88,286.80 467.48,291.58 468.08,292.80 468.68,287.14 469.28,285.60 469.88,292.20 470.48,294.00 471.08,286.35 471.68,283.20 472.64,266.40 473.60,308.40 474.20,308.32 474.80,295.20 475.40,296.07 476.00,306.00 476.60,304.43 477.20,285.60 477.80,288.21 478.40,303.60 479.00,299.50 479.60,290.40 480.20,293.85 480.80,309.60 481.40,307.42 482.00,294.00 482.60,297.17 483.20,310.80 483.80,307.54 484.40,300.00 485.00,285.09 485.60,282.00 486.20,307.45 486.80,308.40 487.40,305.72 488.00,306.00 488.60,303.40 489.20,291.60" fill="none" stroke="#ff7f0e" stroke-width="1.10" stroke-linejoin="round" stroke-linecap="butt"/>
</g>
<rect x="404.00" y="264.62" width="85.50" height="60.75" fill="none" stroke="#000" stroke-width="0.55"/>
<line x1="402.00" y1="278.40" x2="404.00" y2="278.40" stroke="#000" stroke-width="0.55"/>
<text x="400.00" y="280.99" font-size="6.40" text-anchor="end">20</text>
<line x1="402.00" y1="301.90" x2="404.00" y2="301.90" stroke="#000" stroke-width="0.55"/>
<text x="400.00" y="304.49" font-size="6.40" text-anchor="end">10</text>
<line x1="404.00" y1="325.38" x2="404.00" y2="327.38" stroke="#000" stroke-width="0.55"/>
<text x="404.00" y="333.60" font-size="5.10" text-anchor="middle">1900</text>
<line x1="418.25" y1="325.38" x2="418.25" y2="327.38" stroke="#000" stroke-width="0.55"/>
<text x="418.25" y="333.60" font-size="5.10" text-anchor="middle">1920</text>
<line x1="432.50" y1="325.38" x2="432.50" y2="327.38" stroke="#000" stroke-width="0.55"/>
<text x="432.50" y="333.60" font-size="5.10" text-anchor="middle">1940</text>
<line x1="446.75" y1="325.38" x2="446.75" y2="327.38" stroke="#000" stroke-width="0.55"/>
<text x="446.75" y="333.60" font-size="5.10" text-anchor="middle">1960</text>
<line x1="461.00" y1="325.38" x2="461.00" y2="327.38" stroke="#000" stroke-width="0.55"/>
<text x="461.00" y="333.60" font-size="5.10" text-anchor="middle">1980</text>
<line x1="475.25" y1="325.38" x2="475.25" y2="327.38" stroke="#000" stroke-width="0.55"/>
<text x="475.25" y="333.60" font-size="5.10" text-anchor="middle">2000</text>
<line x1="489.50" y1="325.38" x2="489.50" y2="327.38" stroke="#000" stroke-width="0.55"/>
<text x="489.50" y="333.60" font-size="5.10" text-anchor="middle">2020</text>
<text x="0" y="0" font-size="6.3" text-anchor="middle" fill="#000" transform="translate(446.75,261.43) scale(0.9,1)">EQAS</text>
<clipPath id="c_SHSA"><rect x="30.00" y="348.50" width="85.50" height="60.75"/></clipPath>
<g clip-path="url(#c_SHSA)">
<polyline points="98.40,393.40 99.00,391.71 99.60,392.20 100.20,395.24 100.80,395.80 101.52,405.40 102.12,389.92 102.72,385.00 103.32,388.21 103.92,388.60 104.52,389.71 105.12,399.40 105.72,398.93 106.32,383.80 106.92,386.28 107.52,400.60 108.12,400.39 108.72,391.00 109.32,391.35 109.92,394.60 110.52,400.85 111.12,401.80 111.72,393.62 112.32,393.40 112.92,403.00 113.52,403.00 114.12,399.16 114.72,398.20" fill="none" stroke="#1f77b4" stroke-width="1.10" stroke-linejoin="round" stroke-linecap="butt"/>
<polyline points="30.00,373.00 30.60,369.43 31.20,368.20 31.80,369.04 32.40,365.80 33.00,371.15 33.60,386.20 34.20,386.64 34.80,375.40 35.40,372.19 36.00,373.00 36.60,376.16 37.20,376.60 37.80,371.06 38.40,370.60 39.00,379.57 39.60,381.40 40.20,363.06 40.80,358.60 41.40,379.72 42.00,381.40 42.60,364.32 43.20,363.40 43.80,366.55 44.40,367.00 45.00,361.40 45.60,361.00 46.20,364.89 46.80,364.60 47.40,365.08 48.00,371.80 48.60,368.91 49.20,361.00 49.80,362.04 50.40,368.20 51.00,367.92 51.60,363.40 52.20,363.06 52.80,371.80 53.40,371.83 54.00,363.40 54.60,357.48 55.20,357.40 55.80,364.14 56.40,365.80 57.00,352.54 57.60,352.60 58.20,372.23 58.80,379.00 59.40,361.19 60.00,356.20 60.60,361.72 61.20,363.40 61.80,354.70 62.40,353.80 63.00,368.55 63.60,369.40 64.20,353.06 64.80,351.40 65.40,377.11 66.00,379.00 66.60,362.66 67.20,361.00 67.80,367.88 68.40,368.20 69.00,358.04 69.60,355.00 70.20,372.85 70.80,373.00 71.40,357.23 72.00,357.40 72.60,365.55 73.20,365.80 73.80,357.97 74.40,358.60 75.00,368.32 75.60,368.20 76.20,360.70 76.80,361.00 77.40,371.33 78.00,371.80 78.60,371.30 79.20,375.40 79.80,375.53 80.40,370.60 81.00,373.83 81.60,382.60 82.20,383.03 82.80,377.80 83.40,378.08 84.00,381.40 84.60,381.80 85.20,379.00 85.80,378.45 86.40,383.80 87.00,383.76 87.60,380.20 88.20,380.31 88.80,382.60 89.40,382.44 90.00,377.80 90.60,377.50 91.20,385.00 91.80,385.55 92.40,381.40 93.00,374.71 93.60,375.40 94.20,385.20 94.80,385.00 95.40,380.91 96.00,381.40 96.60,381.58 97.20,379.00 97.80,379.92 98.40,383.80 99.00,385.87 99.60,385.00 100.20,385.42 100.80,387.40 101.40,388.05 102.00,382.60 102.60,382.77 103.20,388.60 103.80,388.12 104.40,385.00 105.00,378.61 105.60,376.60 106.20,388.86 106.80,389.80 107.40,385.33 108.00,383.80 108.60,391.01 109.20,392.20 109.80,386.82 110.40,385.00 111.00,387.95 111.60,388.60 112.20,384.58 112.80,383.80 113.40,389.66 114.00,389.80 114.60,387.04 115.20,386.20" fill="none" stroke="#ff7f0e" stroke-width="1.10" stroke-linejoin="round" stroke-linecap="butt"/>
</g>
<rect x="30.00" y="348.50" width="85.50" height="60.75" fill="none" stroke="#000" stroke-width="0.55"/>
<line x1="28.00" y1="354.30" x2="30.00" y2="354.30" stroke="#000" stroke-width="0.55"/>
<text x="26.00" y="356.89" font-size="6.40" text-anchor="end">125</text>
<line x1="28.00" y1="368.70" x2="30.00" y2="368.70" stroke="#000" stroke-width="0.55"/>
<text x="26.00" y="371.29" font-size="6.40" text-anchor="end">100</text>
<line x1="28.00" y1="383.10" x2="30.00" y2="383.10" stroke="#000" stroke-width="0.55"/>
<text x="26.00" y="385.69" font-size="6.40" text-anchor="end">75</text>
<line x1="28.00" y1="397.50" x2="30.00" y2="397.50" stroke="#000" stroke-width="0.55"/>
<text x="26.00" y="400.09" font-size="6.40" text-anchor="end">50</text>
<line x1="30.00" y1="409.25" x2="30.00" y2="411.25" stroke="#000" stroke-width="0.55"/>
<text x="30.00" y="417.48" font-size="5.10" text-anchor="middle">1900</text>
<line x1="44.25" y1="409.25" x2="44.25" y2="411.25" stroke="#000" stroke-width="0.55"/>
<text x="44.25" y="417.48" font-size="5.10" text-anchor="middle">1920</text>
<line x1="58.50" y1="409.25" x2="58.50" y2="411.25" stroke="#000" stroke-width="0.55"/>
<text x="58.50" y="417.48" font-size="5.10" text-anchor="middle">1940</text>
<line x1="72.75" y1="409.25" x2="72.75" y2="411.25" stroke="#000" stroke-width="0.55"/>
<text x="72.75" y="417.48" font-size="5.10" text-anchor="middle">1960</text>
<line x1="87.00" y1="409.25" x2="87.00" y2="411.25" stroke="#000" stroke-width="0.55"/>
<text x="87.00" y="417.48" font-size="5.10" text-anchor="middle">1980</text>
<line x1="101.25" y1="409.25" x2="101.25" y2="411.25" stroke="#000" stroke-width="0.55"/>
<text x="101.25" y="417.48" font-size="5.10" text-anchor="middle">2000</text>
<line x1="115.50" y1="409.25" x2="115.50" y2="411.25" stroke="#000" stroke-width="0.55"/>
<text x="115.50" y="417.48" font-size="5.10" text-anchor="middle">2020</text>
<text x="0" y="0" font-size="6.3" text-anchor="middle" fill="#000" transform="translate(72.75,345.30) scale(0.9,1)">SHSA</text>
<text x="0" y="0" font-size="6.7" text-anchor="middle" transform="translate(11.32,378.88) rotate(-90)">Burned Area (in Mha)</text>
<clipPath id="c_NHAF"><rect x="154.67" y="348.50" width="85.50" height="60.75"/></clipPath>
<g clip-path="url(#c_NHAF)">
<polyline points="223.60,370.60 224.56,357.40 225.52,351.40 226.48,382.60 227.44,379.00 228.40,381.40 229.36,387.40 230.32,373.00 231.28,387.40 232.24,391.00 233.20,385.00 234.16,388.60 235.12,397.00 236.08,386.20 237.04,389.80 238.00,388.60 238.96,399.40 239.68,405.40" fill="none" stroke="#1f77b4" stroke-width="1.10" stroke-linejoin="round" stroke-linecap="butt"/>
<polyline points="154.72,374.20 155.44,388.60 156.40,373.00 157.36,367.00 158.32,385.00 159.28,370.60 160.24,377.80 161.20,369.40 162.16,382.60 163.12,375.40 164.08,380.20 165.04,392.20 166.00,376.60 166.96,380.20 167.92,364.60 168.88,385.00 169.84,376.60 170.80,373.00 171.76,381.40 172.72,375.40 173.68,370.60 174.64,380.20 175.60,385.00 176.56,388.60 177.52,373.00 178.48,364.60 179.44,377.80 180.40,368.20 181.36,371.80 182.32,369.40 183.28,376.60 184.24,381.40 185.20,373.00 186.16,369.40 187.12,363.40 188.08,376.60 189.04,361.00 190.00,373.00 190.96,367.00 191.92,379.00 192.88,373.00 193.84,383.80 194.80,388.60 195.76,368.20 196.72,377.80 197.68,374.20 198.64,380.20 199.60,376.60 200.56,385.00 201.52,369.40 202.48,375.40 203.44,376.60 204.40,370.60 205.36,382.60 206.32,374.20 207.28,380.20 208.24,371.80 209.20,376.60 210.16,380.20 211.12,375.40 212.08,368.20 213.04,379.00 214.00,373.00 214.96,377.80 215.92,371.80 216.88,381.40 217.84,374.20 218.80,379.00 219.76,371.80 220.72,376.60 221.68,373.00 222.64,375.40 223.60,370.60 224.56,379.00 225.52,368.20 226.48,382.60 227.44,380.20 228.40,374.20 229.36,382.60 230.32,379.00 231.28,382.60 232.24,386.20 233.20,380.20 234.16,387.40 235.12,382.60 236.08,381.40 237.04,385.00 238.00,380.20 238.96,387.40 239.92,394.60" fill="none" stroke="#ff7f0e" stroke-width="1.10" stroke-linejoin="round" stroke-linecap="butt"/>
</g>
<rect x="154.67" y="348.50" width="85.50" height="60.75" fill="none" stroke="#000" stroke-width="0.55"/>
<line x1="152.67" y1="364.60" x2="154.67" y2="364.60" stroke="#000" stroke-width="0.55"/>
<text x="150.67" y="367.19" font-size="6.40" text-anchor="end">300</text>
<line x1="152.67" y1="383.00" x2="154.67" y2="383.00" stroke="#000" stroke-width="0.55"/>
<text x="150.67" y="385.59" font-size="6.40" text-anchor="end">250</text>
<line x1="152.67" y1="401.30" x2="154.67" y2="401.30" stroke="#000" stroke-width="0.55"/>
<text x="150.67" y="403.89" font-size="6.40" text-anchor="end">200</text>
<line x1="154.67" y1="409.25" x2="154.67" y2="411.25" stroke="#000" stroke-width="0.55"/>
<text x="154.67" y="417.48" font-size="5.10" text-anchor="middle">1900</text>
<line x1="168.92" y1="409.25" x2="168.92" y2="411.25" stroke="#000" stroke-width="0.55"/>
<text x="168.92" y="417.48" font-size="5.10" text-anchor="middle">1920</text>
<line x1="183.17" y1="409.25" x2="183.17" y2="411.25" stroke="#000" stroke-width="0.55"/>
<text x="183.17" y="417.48" font-size="5.10" text-anchor="middle">1940</text>
<line x1="197.42" y1="409.25" x2="197.42" y2="411.25" stroke="#000" stroke-width="0.55"/>
<text x="197.42" y="417.48" font-size="5.10" text-anchor="middle">1960</text>
<line x1="211.67" y1="409.25" x2="211.67" y2="411.25" stroke="#000" stroke-width="0.55"/>
<text x="211.67" y="417.48" font-size="5.10" text-anchor="middle">1980</text>
<line x1="225.92" y1="409.25" x2="225.92" y2="411.25" stroke="#000" stroke-width="0.55"/>
<text x="225.92" y="417.48" font-size="5.10" text-anchor="middle">2000</text>
<line x1="240.17" y1="409.25" x2="240.17" y2="411.25" stroke="#000" stroke-width="0.55"/>
<text x="240.17" y="417.48" font-size="5.10" text-anchor="middle">2020</text>
<text x="0" y="0" font-size="6.3" text-anchor="middle" fill="#000" transform="translate(197.42,345.30) scale(0.9,1)">NHAF</text>
<clipPath id="c_SHAF"><rect x="279.33" y="348.50" width="85.50" height="60.75"/></clipPath>
<g clip-path="url(#c_SHAF)">
<polyline points="348.12,373.00 348.84,351.40 349.80,386.20 350.52,388.60 351.24,351.40 352.20,373.00 352.80,371.34 353.40,371.80 354.36,373.00 355.32,370.60 356.28,374.20 357.24,368.20 358.20,367.00 359.16,369.40 360.12,373.00 361.08,370.60 362.04,376.60 363.00,376.60 363.96,382.60 364.68,385.00" fill="none" stroke="#1f77b4" stroke-width="1.10" stroke-linejoin="round" stroke-linecap="butt"/>
<polyline points="279.72,393.40 280.44,398.20 281.40,392.20 282.36,381.40 283.32,391.00 284.28,381.40 285.24,391.00 286.20,391.00 287.16,391.00 288.12,391.00 289.08,383.80 290.04,394.60 291.00,398.20 291.96,388.60 292.92,406.60 293.88,404.20 294.84,388.60 295.80,395.80 296.76,380.20 297.72,391.00 298.68,383.80 299.64,395.80 300.60,381.40 301.56,394.60 302.52,387.40 303.48,379.00 304.44,391.00 305.40,382.60 306.36,395.80 307.32,379.00 308.28,370.60 309.24,383.80 310.20,375.40 311.16,382.60 312.12,377.80 313.08,385.00 314.04,376.60 315.00,381.40 315.96,377.80 316.92,373.00 317.88,376.60 318.84,373.00 319.80,379.00 320.76,375.40 321.72,371.80 322.68,381.40 323.64,368.20 324.60,379.00 325.56,385.00 326.52,392.20 327.48,375.40 328.44,369.40 329.40,377.80 330.36,369.40 331.32,375.40 332.28,365.80 333.24,373.00 334.20,361.00 335.16,373.00 336.12,370.60 337.08,385.00 338.04,370.60 339.00,375.40 339.96,367.00 340.92,379.00 341.88,371.80 342.84,382.60 343.80,368.20 344.76,375.40 345.72,382.60 346.68,371.80 347.64,367.00 348.60,377.80 349.56,363.40 350.52,370.60 351.48,362.20 352.44,368.20 353.40,373.00 354.36,367.00 355.32,370.60 356.28,364.60 357.24,359.80 358.20,363.40 359.16,368.20 360.12,367.00 361.08,371.80 362.04,376.60 363.00,373.00 363.96,380.20 364.68,386.20" fill="none" stroke="#ff7f0e" stroke-width="1.10" stroke-linejoin="round" stroke-linecap="butt"/>
</g>
<rect x="279.33" y="348.50" width="85.50" height="60.75" fill="none" stroke="#000" stroke-width="0.55"/>
<line x1="277.33" y1="355.50" x2="279.33" y2="355.50" stroke="#000" stroke-width="0.55"/>
<text x="275.33" y="358.09" font-size="6.40" text-anchor="end">275</text>
<line x1="277.33" y1="368.70" x2="279.33" y2="368.70" stroke="#000" stroke-width="0.55"/>
<text x="275.33" y="371.29" font-size="6.40" text-anchor="end">250</text>
<line x1="277.33" y1="381.90" x2="279.33" y2="381.90" stroke="#000" stroke-width="0.55"/>
<text x="275.33" y="384.49" font-size="6.40" text-anchor="end">225</text>
<line x1="277.33" y1="395.10" x2="279.33" y2="395.10" stroke="#000" stroke-width="0.55"/>
<text x="275.33" y="397.69" font-size="6.40" text-anchor="end">200</text>
<line x1="277.33" y1="408.30" x2="279.33" y2="408.30" stroke="#000" stroke-width="0.55"/>
<text x="275.33" y="410.89" font-size="6.40" text-anchor="end">175</text>
<line x1="279.33" y1="409.25" x2="279.33" y2="411.25" stroke="#000" stroke-width="0.55"/>
<text x="279.33" y="417.48" font-size="5.10" text-anchor="middle">1900</text>
<line x1="293.58" y1="409.25" x2="293.58" y2="411.25" stroke="#000" stroke-width="0.55"/>
<text x="293.58" y="417.48" font-size="5.10" text-anchor="middle">1920</text>
<line x1="307.83" y1="409.25" x2="307.83" y2="411.25" stroke="#000" stroke-width="0.55"/>
<text x="307.83" y="417.48" font-size="5.10" text-anchor="middle">1940</text>
<line x1="322.08" y1="409.25" x2="322.08" y2="411.25" stroke="#000" stroke-width="0.55"/>
<text x="322.08" y="417.48" font-size="5.10" text-anchor="middle">1960</text>
<line x1="336.33" y1="409.25" x2="336.33" y2="411.25" stroke="#000" stroke-width="0.55"/>
<text x="336.33" y="417.48" font-size="5.10" text-anchor="middle">1980</text>
<line x1="350.58" y1="409.25" x2="350.58" y2="411.25" stroke="#000" stroke-width="0.55"/>
<text x="350.58" y="417.48" font-size="5.10" text-anchor="middle">2000</text>
<line x1="364.83" y1="409.25" x2="364.83" y2="411.25" stroke="#000" stroke-width="0.55"/>
<text x="364.83" y="417.48" font-size="5.10" text-anchor="middle">2020</text>
<text x="0" y="0" font-size="6.3" text-anchor="middle" fill="#000" transform="translate(322.08,345.30) scale(0.9,1)">SHAF</text>
<clipPath id="c_AUST"><rect x="404.00" y="348.50" width="85.50" height="60.75"/></clipPath>
<g clip-path="url(#c_AUST)">
<polyline points="472.40,388.60 473.00,386.87 473.60,387.40 474.32,365.80 474.92,364.70 475.52,351.40 476.48,361.00 477.20,388.60 477.92,374.20 478.88,383.80 479.84,381.40 480.80,392.20 481.40,384.45 482.00,385.00 482.96,363.40 483.92,387.40 484.88,377.80 485.84,393.40 486.80,380.20 487.76,383.80 488.72,391.00 489.44,388.60" fill="none" stroke="#1f77b4" stroke-width="1.10" stroke-linejoin="round" stroke-linecap="butt"/>
<polyline points="404.00,391.00 404.72,404.20 405.68,394.60 406.40,405.40 407.00,399.99 407.60,399.40 408.20,403.32 408.80,403.00 409.40,400.55 410.00,400.60 410.60,403.66 411.20,404.20 411.80,400.53 412.40,400.60 413.00,405.56 413.60,405.40 414.20,400.05 414.80,399.40 415.40,402.60 416.00,403.00 416.60,401.53 417.20,401.80 417.80,401.68 418.40,399.40 419.00,393.93 419.60,393.40 420.20,402.99 420.80,403.00 421.40,397.60 422.00,398.20 422.60,401.37 423.20,400.60 423.80,398.58 424.40,398.20 425.00,403.70 425.60,404.20 426.20,400.27 426.80,400.60 427.40,400.06 428.00,395.80 428.60,396.79 429.20,401.80 429.80,400.91 430.40,397.00 431.00,399.46 431.60,405.40 432.20,405.95 432.80,398.20 433.40,395.26 434.00,395.80 434.60,400.88 435.20,400.60 435.80,396.57 436.40,397.00 437.00,402.28 437.60,401.80 438.20,399.76 438.80,399.40 439.40,395.39 440.00,386.20 440.60,391.77 441.20,406.60 441.80,405.31 442.40,394.60 443.00,395.23 443.60,401.80 444.20,401.83 444.80,393.40 445.40,394.50 446.00,399.40 446.60,402.29 447.20,403.00 447.80,397.88 448.40,397.00 449.00,400.04 449.60,400.60 450.20,394.48 450.80,394.60 451.40,398.27 452.00,399.40 452.60,391.83 453.20,392.20 453.80,400.10 454.40,401.80 455.00,395.26 455.60,395.80 456.56,376.60 457.52,392.20 458.12,391.80 458.72,388.60 459.32,388.17 459.92,397.00 460.52,399.57 461.12,399.40 461.72,387.70 462.32,387.40 462.92,400.17 463.52,400.60 464.12,395.26 464.72,395.80 465.32,398.74 465.92,398.20 466.52,396.71 467.12,397.00 467.72,399.02 468.32,399.40 468.92,394.44 469.52,394.60 470.12,399.19 470.72,400.60 471.32,397.35 471.92,398.20 472.52,399.08 473.12,395.80 473.72,396.08 474.32,399.40 474.92,398.19 475.52,385.00 476.12,385.12 476.72,392.20 477.32,395.26 477.92,395.80 478.52,391.00 479.12,389.80 479.72,400.45 480.32,400.60 480.92,390.58 481.52,388.60 482.12,404.41 482.72,406.60 483.32,391.79 483.92,386.20 484.52,393.91 485.12,393.40 485.72,395.10 486.32,399.40 486.92,398.24 487.52,389.80 488.12,390.16 488.72,397.00 489.44,393.40" fill="none" stroke="#ff7f0e" stroke-width="1.10" stroke-linejoin="round" stroke-linecap="butt"/>
</g>
<rect x="404.00" y="348.50" width="85.50" height="60.75" fill="none" stroke="#000" stroke-width="0.55"/>
<line x1="402.00" y1="358.60" x2="404.00" y2="358.60" stroke="#000" stroke-width="0.55"/>
<text x="400.00" y="361.19" font-size="6.40" text-anchor="end">100</text>
<line x1="402.00" y1="373.00" x2="404.00" y2="373.00" stroke="#000" stroke-width="0.55"/>
<text x="400.00" y="375.59" font-size="6.40" text-anchor="end">75</text>
<line x1="402.00" y1="387.40" x2="404.00" y2="387.40" stroke="#000" stroke-width="0.55"/>
<text x="400.00" y="389.99" font-size="6.40" text-anchor="end">50</text>
<line x1="402.00" y1="401.80" x2="404.00" y2="401.80" stroke="#000" stroke-width="0.55"/>
<text x="400.00" y="404.39" font-size="6.40" text-anchor="end">25</text>
<line x1="404.00" y1="409.25" x2="404.00" y2="411.25" stroke="#000" stroke-width="0.55"/>
<text x="404.00" y="417.48" font-size="5.10" text-anchor="middle">1900</text>
<line x1="418.25" y1="409.25" x2="418.25" y2="411.25" stroke="#000" stroke-width="0.55"/>
<text x="418.25" y="417.48" font-size="5.10" text-anchor="middle">1920</text>
<line x1="432.50" y1="409.25" x2="432.50" y2="411.25" stroke="#000" stroke-width="0.55"/>
<text x="432.50" y="417.48" font-size="5.10" text-anchor="middle">1940</text>
<line x1="446.75" y1="409.25" x2="446.75" y2="411.25" stroke="#000" stroke-width="0.55"/>
<text x="446.75" y="417.48" font-size="5.10" text-anchor="middle">1960</text>
<line x1="461.00" y1="409.25" x2="461.00" y2="411.25" stroke="#000" stroke-width="0.55"/>
<text x="461.00" y="417.48" font-size="5.10" text-anchor="middle">1980</text>
<line x1="475.25" y1="409.25" x2="475.25" y2="411.25" stroke="#000" stroke-width="0.55"/>
<text x="475.25" y="417.48" font-size="5.10" text-anchor="middle">2000</text>
<line x1="489.50" y1="409.25" x2="489.50" y2="411.25" stroke="#000" stroke-width="0.55"/>
<text x="489.50" y="417.48" font-size="5.10" text-anchor="middle">2020</text>
<text x="0" y="0" font-size="6.3" text-anchor="middle" fill="#000" transform="translate(446.75,345.30) scale(0.9,1)">AUST</text>
<clipPath id="c_GLOBAL"><rect x="189.50" y="96.80" width="140.00" height="60.70"/></clipPath>
<g clip-path="url(#c_GLOBAL)">
<polyline points="302.00,138.00 302.31,135.50 303.02,125.56 303.73,110.65 304.44,109.94 305.15,126.98 305.86,128.40 306.57,118.46 307.28,109.94 307.99,115.62 308.70,121.30 309.41,120.59 310.12,119.88 310.83,122.01 311.54,120.59 312.25,123.43 312.96,129.82 313.67,131.95 314.38,124.85 315.09,124.14 315.80,125.56 316.51,132.66 317.22,133.37 317.93,133.37 318.64,128.40 319.35,126.27 320.06,128.40 320.77,136.92 321.48,142.60 322.19,138.34 322.90,136.21 323.61,137.63 324.32,135.50 325.03,136.21 325.74,139.76 326.45,142.60 327.16,144.73 327.87,145.44 328.58,145.44 329.00,145.50" fill="none" stroke="#1f77b4" stroke-width="1.00" stroke-linejoin="round" stroke-linecap="butt"/>
<polyline points="189.50,132.00 189.71,131.95 190.70,130.53 191.56,129.82 192.55,129.11 193.54,127.69 194.40,125.56 194.96,134.08 195.82,128.40 196.81,130.53 197.52,123.43 198.23,128.40 198.94,134.79 199.65,124.85 200.36,126.27 201.07,130.53 201.78,128.40 202.49,129.11 203.20,134.08 203.91,131.95 204.62,130.53 205.33,128.40 206.04,130.53 206.75,131.95 207.46,131.24 208.17,129.11 208.88,122.72 209.59,120.59 210.30,116.33 211.01,120.59 211.72,134.08 212.43,128.40 213.14,122.72 213.85,121.30 214.56,120.59 215.27,121.30 215.98,122.01 216.69,124.85 217.40,122.72 218.11,125.56 218.82,123.43 219.53,122.72 220.24,124.85 220.95,122.01 221.66,124.85 222.37,126.98 223.08,122.72 223.79,126.27 224.50,122.72 225.21,132.66 225.92,130.53 226.63,126.27 227.34,121.30 228.05,122.72 228.76,117.04 229.47,115.62 230.18,119.88 230.89,119.17 231.60,122.01 232.31,117.75 233.02,119.88 233.73,118.46 234.44,122.72 235.15,117.75 235.86,119.17 236.57,117.04 237.28,120.59 237.99,118.46 238.70,117.75 239.41,117.04 240.12,121.30 240.83,117.75 241.54,118.46 242.25,118.46 242.96,117.04 243.67,118.46 244.38,117.75 245.09,117.04 245.80,116.33 246.51,119.88 247.22,117.75 247.93,115.62 248.64,113.49 249.35,114.20 250.06,122.01 250.77,118.46 251.48,121.30 252.19,117.75 252.90,119.17 253.61,122.72 254.32,123.43 255.03,119.17 255.74,119.88 256.45,122.01 257.16,123.43 257.87,119.88 258.58,117.75 259.00,117.04 259.71,116.33 260.42,118.46 261.13,121.30 261.84,117.75 262.55,116.33 263.26,119.88 263.97,122.01 264.68,126.98 265.39,124.85 266.10,131.24 266.81,122.72 267.52,117.75 268.23,122.72 268.94,119.17 269.65,121.30 270.36,122.01 271.07,123.43 271.78,127.69 272.49,125.56 273.20,130.53 273.91,125.56 274.62,121.30 275.33,118.46 276.04,114.91 276.75,121.30 277.46,126.27 278.17,124.14 278.88,122.72 279.59,126.27 280.30,124.85 281.01,127.69 281.72,124.85 282.43,126.98 283.14,126.27 283.85,124.85 284.56,126.98 285.27,128.40 285.98,126.27 286.69,127.69 287.40,129.11 288.11,128.40 288.82,126.98 289.53,127.69 290.24,126.27 290.95,125.56 291.66,129.11 292.37,126.98 293.08,125.56 293.79,130.53 294.50,133.37 295.21,125.56 295.92,126.98 296.63,129.11 297.34,126.27 298.05,131.95 298.76,129.82 299.47,126.98 300.18,125.56 300.89,127.69 301.60,126.27 302.31,129.11 303.02,124.85 303.73,122.01 304.44,125.56 305.15,129.82 305.86,124.14 306.57,121.30 307.28,122.72 307.99,127.69 308.70,129.82 309.41,125.56 310.12,127.69 310.83,123.43 311.54,124.85 312.25,126.27 312.96,128.40 313.67,127.69 314.38,125.56 315.09,128.40 315.80,126.98 316.51,129.11 317.22,130.53 317.93,128.40 318.64,126.27 319.35,127.69 320.06,131.24 320.77,130.53 321.48,131.95 322.19,133.37 322.90,131.95 323.61,134.79 324.32,134.08 325.03,135.50 325.74,134.79 326.45,136.21 327.16,137.63 327.87,139.05 328.58,140.47 329.00,141.00" fill="none" stroke="#ff7f0e" stroke-width="1.00" stroke-linejoin="round" stroke-linecap="butt"/>
</g>
<rect x="189.50" y="96.80" width="140.00" height="60.70" fill="none" stroke="#000" stroke-width="0.75"/>
<line x1="187.50" y1="96.80" x2="189.50" y2="96.80" stroke="#000" stroke-width="0.75"/>
<text x="185.50" y="99.39" font-size="6.40" text-anchor="end">1000</text>
<line x1="187.50" y1="112.00" x2="189.50" y2="112.00" stroke="#000" stroke-width="0.75"/>
<text x="185.50" y="114.59" font-size="6.40" text-anchor="end">900</text>
<line x1="187.50" y1="127.20" x2="189.50" y2="127.20" stroke="#000" stroke-width="0.75"/>
<text x="185.50" y="129.79" font-size="6.40" text-anchor="end">800</text>
<line x1="187.50" y1="142.40" x2="189.50" y2="142.40" stroke="#000" stroke-width="0.75"/>
<text x="185.50" y="144.99" font-size="6.40" text-anchor="end">700</text>
<line x1="187.50" y1="157.60" x2="189.50" y2="157.60" stroke="#000" stroke-width="0.75"/>
<text x="185.50" y="160.19" font-size="6.40" text-anchor="end">600</text>
<line x1="189.50" y1="157.50" x2="189.50" y2="159.50" stroke="#000" stroke-width="0.75"/>
<text x="189.50" y="166.79" font-size="6.40" text-anchor="middle">1900</text>
<line x1="212.83" y1="157.50" x2="212.83" y2="159.50" stroke="#000" stroke-width="0.75"/>
<text x="212.83" y="166.79" font-size="6.40" text-anchor="middle">1920</text>
<line x1="236.17" y1="157.50" x2="236.17" y2="159.50" stroke="#000" stroke-width="0.75"/>
<text x="236.17" y="166.79" font-size="6.40" text-anchor="middle">1940</text>
<line x1="259.50" y1="157.50" x2="259.50" y2="159.50" stroke="#000" stroke-width="0.75"/>
<text x="259.50" y="166.79" font-size="6.40" text-anchor="middle">1960</text>
<line x1="282.83" y1="157.50" x2="282.83" y2="159.50" stroke="#000" stroke-width="0.75"/>
<text x="282.83" y="166.79" font-size="6.40" text-anchor="middle">1980</text>
<line x1="306.17" y1="157.50" x2="306.17" y2="159.50" stroke="#000" stroke-width="0.75"/>
<text x="306.17" y="166.79" font-size="6.40" text-anchor="middle">2000</text>
<line x1="329.50" y1="157.50" x2="329.50" y2="159.50" stroke="#000" stroke-width="0.75"/>
<text x="329.50" y="166.79" font-size="6.40" text-anchor="middle">2020</text>
<text x="0" y="0" font-size="6.3" text-anchor="middle" fill="#7a7a7a" transform="translate(259.50,93.60) scale(0.9,1)">GLOBAL</text>
<text x="0" y="0" font-size="6.7" text-anchor="middle" transform="translate(167.27,127.15) rotate(-90)">Burned Area (in Mha)</text>
<rect x="191.20" y="98.20" width="25.2" height="12" rx="1" fill="#fff" fill-opacity="0.8" stroke="#d8d8d8" stroke-width="0.4"/>
<line x1="192.00" y1="101.40" x2="200.00" y2="101.40" stroke="#1f77b4" stroke-width="0.9"/>
<line x1="192.00" y1="106.80" x2="200.00" y2="106.80" stroke="#ff7f0e" stroke-width="0.9"/>
<text x="202.50" y="102.70" font-size="3.6">GFED5</text>
<text x="202.50" y="108.10" font-size="3.6">BuRNN</text>
<clipPath id="globe"><path d="M315.66,308.20L317.62,307.64L319.87,306.87L322.37,305.94L325.04,304.84L327.81,303.61L330.50,302.30L332.98,300.93L335.28,299.52L337.48,298.07L339.61,296.57L341.68,295.04L343.70,293.48L345.66,291.90L347.53,290.28L349.32,288.65L351.00,287.00L352.53,285.33L353.98,283.64L355.36,281.95L356.65,280.24L357.81,278.53L358.87,276.82L359.83,275.10L360.69,273.38L361.43,271.66L362.06,269.94L362.57,268.22L363.03,266.50L363.46,264.78L363.85,263.06L364.17,261.34L364.42,259.63L364.61,257.91L364.75,256.19L364.85,254.47L364.90,252.75L364.85,251.03L364.75,249.31L364.61,247.59L364.42,245.87L364.17,244.16L363.85,242.44L363.46,240.72L363.03,239.00L362.57,237.28L362.06,235.56L361.43,233.84L360.69,232.12L359.83,230.40L358.87,228.68L357.81,226.97L356.65,225.26L355.36,223.55L353.98,221.86L352.53,220.17L351.00,218.50L349.32,216.85L347.53,215.22L345.66,213.60L343.70,212.02L341.68,210.46L339.61,208.93L337.48,207.43L335.28,205.98L332.98,204.57L330.50,203.20L327.81,201.89L325.04,200.66L322.37,199.56L319.87,198.63L317.62,197.86L315.66,197.30L203.64,197.30L201.68,197.86L199.43,198.63L196.93,199.56L194.26,200.66L191.49,201.89L188.80,203.20L186.32,204.57L184.02,205.98L181.82,207.43L179.69,208.93L177.62,210.46L175.60,212.02L173.64,213.60L171.77,215.22L169.98,216.85L168.30,218.50L166.77,220.17L165.32,221.86L163.94,223.55L162.65,225.26L161.49,226.97L160.43,228.68L159.47,230.40L158.61,232.12L157.87,233.84L157.24,235.56L156.73,237.28L156.27,239.00L155.84,240.72L155.45,242.44L155.13,244.16L154.88,245.87L154.69,247.59L154.55,249.31L154.45,251.03L154.40,252.75L154.45,254.47L154.55,256.19L154.69,257.91L154.88,259.63L155.13,261.34L155.45,263.06L155.84,264.78L156.27,266.50L156.73,268.22L157.24,269.94L157.87,271.66L158.61,273.38L159.47,275.10L160.43,276.82L161.49,278.53L162.65,280.24L163.94,281.95L165.32,283.64L166.77,285.33L168.30,287.00L169.98,288.65L171.77,290.28L173.64,291.90L175.60,293.48L177.62,295.04L179.69,296.57L181.82,298.07L184.02,299.52L186.32,300.93L188.80,302.30L191.49,303.61L194.26,304.84L196.93,305.94L199.43,306.87L201.68,307.64L203.64,308.20Z"/></clipPath>
<path d="M315.66,308.20L317.62,307.64L319.87,306.87L322.37,305.94L325.04,304.84L327.81,303.61L330.50,302.30L332.98,300.93L335.28,299.52L337.48,298.07L339.61,296.57L341.68,295.04L343.70,293.48L345.66,291.90L347.53,290.28L349.32,288.65L351.00,287.00L352.53,285.33L353.98,283.64L355.36,281.95L356.65,280.24L357.81,278.53L358.87,276.82L359.83,275.10L360.69,273.38L361.43,271.66L362.06,269.94L362.57,268.22L363.03,266.50L363.46,264.78L363.85,263.06L364.17,261.34L364.42,259.63L364.61,257.91L364.75,256.19L364.85,254.47L364.90,252.75L364.85,251.03L364.75,249.31L364.61,247.59L364.42,245.87L364.17,244.16L363.85,242.44L363.46,240.72L363.03,239.00L362.57,237.28L362.06,235.56L361.43,233.84L360.69,232.12L359.83,230.40L358.87,228.68L357.81,226.97L356.65,225.26L355.36,223.55L353.98,221.86L352.53,220.17L351.00,218.50L349.32,216.85L347.53,215.22L345.66,213.60L343.70,212.02L341.68,210.46L339.61,208.93L337.48,207.43L335.28,205.98L332.98,204.57L330.50,203.20L327.81,201.89L325.04,200.66L322.37,199.56L319.87,198.63L317.62,197.86L315.66,197.30L203.64,197.30L201.68,197.86L199.43,198.63L196.93,199.56L194.26,200.66L191.49,201.89L188.80,203.20L186.32,204.57L184.02,205.98L181.82,207.43L179.69,208.93L177.62,210.46L175.60,212.02L173.64,213.60L171.77,215.22L169.98,216.85L168.30,218.50L166.77,220.17L165.32,221.86L163.94,223.55L162.65,225.26L161.49,226.97L160.43,228.68L159.47,230.40L158.61,232.12L157.87,233.84L157.24,235.56L156.73,237.28L156.27,239.00L155.84,240.72L155.45,242.44L155.13,244.16L154.88,245.87L154.69,247.59L154.55,249.31L154.45,251.03L154.40,252.75L154.45,254.47L154.55,256.19L154.69,257.91L154.88,259.63L155.13,261.34L155.45,263.06L155.84,264.78L156.27,266.50L156.73,268.22L157.24,269.94L157.87,271.66L158.61,273.38L159.47,275.10L160.43,276.82L161.49,278.53L162.65,280.24L163.94,281.95L165.32,283.64L166.77,285.33L168.30,287.00L169.98,288.65L171.77,290.28L173.64,291.90L175.60,293.48L177.62,295.04L179.69,296.57L181.82,298.07L184.02,299.52L186.32,300.93L188.80,302.30L191.49,303.61L194.26,304.84L196.93,305.94L199.43,306.87L201.68,307.64L203.64,308.20Z" fill="#98b4e2" stroke="none"/>
<g clip-path="url(#globe)">
<path d="M232.60,219.04L232.46,220.17L231.80,220.71L230.92,220.51L230.26,220.11L229.66,220.11L229.07,220.11L229.82,219.14L230.57,218.17L231.56,217.44L231.47,218.14L231.39,218.84L232.00,218.94ZM200.12,206.21L200.90,206.27L201.68,206.32L202.46,206.38L203.35,206.25L204.23,206.12L205.12,205.99L205.99,205.86L206.69,206.00L207.38,206.13L208.09,206.27L208.68,206.41L209.27,206.55L209.87,206.70L210.48,206.85L211.20,206.88L211.92,206.90L212.65,206.93L213.37,206.96L214.14,207.06L214.91,207.16L215.69,207.26L216.48,207.18L217.26,207.10L218.04,207.02L219.73,205.98L221.01,204.96L221.20,205.46L221.41,205.98L221.71,206.41L222.02,206.85L222.88,206.55L223.72,206.27L223.85,206.99L224.00,207.73L223.07,208.08L222.14,208.44L222.56,208.53L222.97,208.63L223.39,209.02L223.82,209.41L223.11,209.84L222.37,209.70L221.63,209.56L220.90,209.41L221.28,208.85L220.15,209.54L218.94,209.99L217.72,210.46L215.96,211.70L215.03,212.78L215.25,213.35L215.50,213.92L216.32,214.15L217.16,214.37L217.68,214.73L218.22,215.09L218.83,215.31L219.45,215.54L219.42,216.59L219.43,217.64L220.17,216.59L220.92,215.54L222.53,214.25L222.94,213.44L223.36,212.65L223.57,211.39L224.33,210.46L224.98,210.52L225.63,210.58L226.28,210.64L226.77,211.01L227.27,211.39L227.14,212.14L227.01,212.90L227.75,212.84L228.48,212.78L229.62,211.83L229.79,213.03L230.00,214.25L230.60,214.89L231.21,215.54L231.45,216.26L231.71,216.98L230.76,217.58L229.81,218.17L228.95,218.24L228.08,218.30L227.22,218.37L226.56,218.44L225.90,218.50L224.81,219.07L223.71,219.64L224.85,219.34L225.97,219.04L226.65,219.30L226.15,220.04L226.12,220.98L226.95,221.25L227.78,221.52L227.05,221.79L226.31,222.06L226.24,222.09L225.40,222.04L224.55,221.99L224.23,221.52L224.55,220.51L224.02,220.24L223.30,220.85L222.18,221.86L221.26,221.86L220.35,221.86L219.48,222.40L218.66,222.71L217.84,223.01L216.96,222.94L216.09,222.87L216.22,222.10L216.37,221.32L215.77,220.85L215.05,220.51L214.33,220.17L213.61,219.84L212.81,219.53L212.02,219.21L211.24,218.90L211.11,219.17L210.15,219.17L209.19,219.17L208.23,219.17L207.27,219.17L206.31,219.17L205.35,219.17L204.39,219.17L203.43,219.17L202.47,219.17L201.52,219.17L200.56,219.17L199.60,219.17L198.64,219.17L197.68,219.17L196.72,219.17L196.78,219.04L196.26,218.44L195.78,218.21L195.31,217.97L195.73,217.05L195.61,216.39L195.51,215.74L195.72,214.89L195.99,213.73L195.79,213.28L195.61,212.84L194.72,212.78L194.43,212.46L194.15,212.14L193.40,212.08L192.64,212.02L192.20,211.76L191.76,211.51L190.24,212.08L189.31,212.30L188.37,212.52L190.41,211.26L188.87,211.83L187.06,212.65L185.89,213.54L184.34,214.12L182.85,214.63L181.89,214.86L180.93,215.09L180.00,215.28L179.07,215.48L180.39,215.02L181.71,214.57L182.64,214.25L183.58,213.92L185.38,212.90L184.80,212.78L183.96,212.84L183.11,212.90L184.00,212.02L183.60,211.86L183.20,211.70L183.48,211.08L183.85,210.58L185.19,209.96L186.44,209.63L187.68,209.29L187.98,209.05L187.09,209.14L186.19,209.23L185.46,209.11L185.42,208.63L187.04,207.73L188.67,206.85L190.21,206.35L191.74,205.86L192.81,205.65L193.86,205.45L194.92,205.24L195.43,205.35L195.95,205.46L196.47,205.58L197.00,205.69L197.62,205.79L198.24,205.90L198.86,206.00L199.49,206.10ZM232.76,208.03L232.00,208.48L231.22,208.93L229.95,210.15L229.34,210.24L228.72,210.33L228.17,210.09L227.62,209.84L227.11,209.54L226.61,209.23L225.70,209.26L224.78,209.29L225.65,208.96L226.51,208.63L227.98,207.61L227.44,207.08L226.92,206.55L226.30,206.42L225.68,206.28L225.07,206.15L224.50,206.06L223.93,205.98L223.31,205.69L222.70,205.41L222.79,205.13L223.59,205.13L224.38,205.13L225.17,205.13L225.97,205.13L226.76,205.13L227.56,205.13L228.35,205.13L229.15,205.13L229.94,205.13L230.54,205.49L231.15,205.86L231.17,206.55L231.70,207.14L232.26,207.73ZM211.34,206.85L210.90,206.41L210.49,205.98L210.78,205.29L210.96,205.13L211.71,205.13L212.46,205.13L213.21,205.13L213.96,205.13L214.72,205.13L215.47,205.13L216.22,205.13L216.97,205.13L217.72,205.13L217.11,206.09L216.04,206.35L214.96,206.61L214.06,206.67L213.15,206.73L212.24,206.79ZM208.90,205.13L209.55,205.13L209.19,205.24Z" fill="#d9d052" fill-rule="evenodd" stroke="#d9d052" stroke-width="0.25"/>
<path d="M223.87,222.33L223.09,222.71L222.31,223.08L222.02,224.03L221.09,224.44L219.90,224.85L219.67,225.60L218.63,226.42L218.07,227.45L218.07,228.55L217.14,228.96L215.83,229.78L214.46,230.88L214.07,232.12L214.14,233.15L214.24,234.19L213.93,235.42L213.49,235.29L213.28,234.53L212.95,233.50L212.75,232.26L211.89,232.33L211.16,231.85L210.45,231.88L209.74,231.92L209.31,232.81L208.46,232.60L207.79,232.47L207.12,232.33L206.21,232.60L205.45,233.19L204.70,233.77L204.39,234.87L203.88,234.36L203.39,233.84L203.14,233.09L202.90,232.33L202.04,232.40L201.18,232.47L200.69,231.68L200.23,230.88L199.29,231.23L198.45,231.23L197.61,231.23L196.68,230.82L195.76,230.40L195.12,230.40L194.48,230.40L194.07,229.37L193.57,229.17L193.07,228.96L192.91,227.59L192.90,226.83L192.66,225.94L192.84,224.92L193.61,223.55L194.37,222.30L195.14,221.05L195.40,220.31L195.68,219.57L196.51,219.64L196.72,219.17L197.68,219.17L198.64,219.17L199.60,219.17L200.56,219.17L201.52,219.17L202.47,219.17L203.43,219.17L204.39,219.17L205.35,219.17L206.31,219.17L207.27,219.17L208.23,219.17L209.19,219.17L210.15,219.17L211.11,219.17L211.24,218.90L212.02,219.21L212.81,219.53L213.61,219.84L214.33,220.17L215.05,220.51L215.77,220.85L216.37,221.32L216.22,222.10L216.09,222.87L216.96,222.94L217.84,223.01L218.66,222.71L219.48,222.40L220.35,221.86L221.26,221.86L222.18,221.86L223.30,220.85L224.02,220.24L224.55,220.51L224.23,221.52L224.55,221.99L225.40,222.04L226.24,222.09L225.53,222.38L224.82,222.67Z" fill="#dc5555" fill-rule="evenodd" stroke="#dc5555" stroke-width="0.25"/>
<path d="M203.89,238.52L204.33,239.55L205.07,240.03L205.88,240.00L206.69,239.96L207.30,239.69L207.78,238.65L207.96,238.10L208.83,238.04L209.70,237.97L209.41,239.34L208.87,240.03L208.74,240.82L208.62,241.61L209.28,241.71L209.93,241.82L210.68,242.13L211.43,242.44L211.29,243.30L211.17,244.16L211.01,244.98L210.39,244.98L209.77,244.98L208.87,243.81L207.75,243.40L206.61,243.12L205.59,241.89L204.71,241.92L203.84,241.95L203.16,241.65L202.47,241.34L201.80,240.96L201.13,240.58L200.21,239.96L199.30,239.34L199.11,238.31L199.35,237.14L198.88,236.52L197.96,235.35L197.58,234.60L197.22,233.84L196.42,232.81L196.30,232.05L196.19,231.30L195.60,230.88L195.49,232.12L195.95,233.50L196.36,234.87L196.79,236.11L197.11,236.87L196.76,236.59L195.84,235.70L196.00,234.46L195.48,234.05L194.96,233.64L195.31,232.95L194.68,231.64L194.48,230.40L195.12,230.40L195.76,230.40L196.68,230.82L197.61,231.23L198.45,231.23L199.29,231.23L200.23,230.88L200.69,231.68L201.18,232.47L202.04,232.40L202.90,232.33L203.14,233.09L203.39,233.84L203.88,234.36L204.39,234.87L204.30,235.22L204.00,236.25L203.73,237.28Z" fill="#a3dc55" fill-rule="evenodd" stroke="#a3dc55" stroke-width="0.25"/>
<path d="M215.73,245.46L216.63,244.98L217.82,244.57L218.19,245.19L217.84,246.22L218.31,246.22L218.96,244.84L219.98,245.46L220.62,245.46L221.26,245.46L222.42,245.39L223.59,245.39L223.85,246.01L224.69,246.91L225.53,247.94L226.27,248.62L226.91,248.66L227.55,248.69L228.42,248.90L229.57,249.86L229.85,250.69L230.42,251.51L230.53,252.75L229.42,252.75L228.30,252.75L227.19,252.75L226.07,252.75L224.96,252.75L223.84,252.75L222.73,252.75L221.61,252.75L220.50,252.75L219.38,252.75L218.27,252.75L217.16,252.75L216.04,252.75L214.93,252.75L213.81,252.75L212.70,252.75L213.00,252.06L213.59,251.72L213.98,250.93L214.38,250.14L214.43,249.21L214.49,248.28L214.22,247.73L214.60,247.04L215.40,246.22Z" fill="#6f5cdc" fill-rule="evenodd" stroke="#6f5cdc" stroke-width="0.25"/>
<path d="M226.32,290.54L225.23,290.28L224.21,289.63L223.30,288.98L222.39,288.32L221.66,287.16L220.94,286.00L220.89,285.16L220.85,284.32L220.64,282.96L220.46,281.61L220.12,280.58L219.79,279.56L219.64,278.19L219.96,276.82L219.93,275.44L219.74,274.41L219.57,273.38L219.33,272.00L219.40,270.97L219.48,269.94L219.43,268.56L219.40,267.19L219.28,266.26L219.16,265.33L218.09,264.44L217.02,263.75L215.94,263.06L215.34,262.03L214.60,260.66L214.11,259.63L213.62,258.59L212.99,257.56L212.19,256.53L212.33,255.50L212.90,254.81L212.59,253.78L212.70,252.75L213.81,252.75L214.93,252.75L216.04,252.75L217.16,252.75L218.27,252.75L219.38,252.75L220.50,252.75L221.61,252.75L222.73,252.75L223.84,252.75L224.96,252.75L226.07,252.75L227.19,252.75L228.30,252.75L229.42,252.75L230.53,252.75L231.30,253.44L232.03,253.44L232.76,253.44L233.64,254.47L234.37,254.57L235.11,254.68L235.84,254.74L236.57,254.81L237.45,255.50L238.34,256.19L239.10,256.53L239.17,257.39L239.25,258.25L238.98,259.28L238.14,260.52L237.31,261.69L237.07,263.06L237.12,264.03L237.17,264.99L236.78,266.36L236.35,267.74L235.66,268.56L234.95,268.67L234.24,268.77L233.14,269.25L232.39,270.49L232.28,271.42L232.19,272.35L231.58,273.38L231.08,274.62L230.30,275.99L229.58,276.68L228.48,276.68L227.31,276.33L228.25,277.50L228.32,278.26L228.39,279.01L227.38,279.35L226.73,279.46L226.07,279.56L226.25,280.72L225.53,280.82L224.80,280.92L225.80,282.01L225.69,282.83L225.59,283.64L225.07,284.08L224.56,284.52L225.70,285.66L225.36,286.40L225.04,287.13L225.01,287.99L225.55,288.58L225.03,288.65L224.95,289.12L225.16,288.98L225.50,288.72L226.34,289.50L227.18,290.28Z" fill="#dc4f8c" fill-rule="evenodd" stroke="#dc4f8c" stroke-width="0.25"/>
<path d="M273.75,225.05L274.44,225.00L274.55,226.05L274.66,227.11L274.54,226.97L274.20,226.28L273.86,225.60ZM254.79,216.52L254.73,215.87L255.48,215.67L255.75,215.09L256.48,215.09L256.86,215.48L256.69,216.00L256.65,217.11L256.15,217.18L255.39,217.44L254.49,217.31ZM254.50,226.15L254.87,224.92L254.96,223.96L254.72,223.21L255.43,222.74L256.22,222.81L257.01,222.87L257.85,222.91L258.70,222.94L258.86,222.06L259.02,221.18L258.36,220.31L257.80,219.94L257.24,219.57L258.12,219.30L258.88,219.37L258.99,218.70L259.75,218.84L260.41,218.37L261.16,217.71L261.89,216.85L262.13,216.39L263.11,216.26L263.94,215.93L263.88,214.89L263.59,214.05L264.13,213.80L264.66,213.54L264.72,214.44L264.78,215.22L265.07,215.87L265.78,215.54L266.54,215.87L267.26,215.64L267.97,215.41L268.71,215.48L269.37,215.28L269.83,214.63L269.75,214.05L269.93,213.67L270.43,213.48L271.18,213.41L270.78,212.97L270.70,212.46L271.27,212.39L271.85,212.33L272.79,212.33L273.66,212.02L272.93,211.86L272.20,211.70L271.30,211.89L270.71,211.86L270.13,211.83L269.50,211.39L269.45,210.46L269.92,209.90L270.39,209.35L270.98,208.93L270.00,208.45L269.36,208.57L269.00,209.05L268.22,209.84L267.63,210.46L267.65,211.39L268.43,212.02L268.35,212.52L267.97,213.22L267.57,213.92L267.34,214.50L266.56,214.96L265.83,214.37L265.59,213.80L264.93,212.71L264.58,212.33L264.36,212.65L263.45,213.22L262.74,213.22L262.25,212.78L261.98,211.89L261.95,211.08L262.16,210.46L262.71,210.15L263.26,209.84L264.12,209.35L264.64,208.84L265.14,208.33L265.92,207.43L266.06,206.85L266.88,206.55L267.63,205.98L268.25,205.89L268.86,205.81L269.55,205.58L270.22,205.35L270.76,205.41L271.29,205.46L271.85,205.61L272.40,205.75L272.69,206.86L272.98,208.00L273.25,209.16L273.52,210.33L273.79,211.53L274.05,212.74L274.30,213.97L274.54,215.22L273.81,215.22L273.08,215.22L273.29,216.49L273.50,217.78L273.69,219.08L273.87,220.38L274.04,221.70L274.21,223.02L274.37,224.35L273.87,224.71L273.33,224.71L272.54,224.78L272.03,225.05L272.36,225.74L272.01,226.08L272.71,226.63L272.21,227.17L271.98,227.72L271.52,227.45L271.14,226.76L271.16,226.28L270.56,225.53L270.08,224.92L270.06,224.03L269.49,223.55L268.76,223.08L267.99,222.67L267.53,222.20L267.13,221.72L266.80,221.39L266.18,221.52L266.10,221.99L266.29,222.54L266.84,222.87L267.37,223.76L268.20,224.23L269.04,224.71L269.61,225.19L269.30,225.26L268.60,225.39L268.92,226.01L268.61,226.28L268.19,226.63L268.13,225.60L267.83,225.12L267.04,224.44L266.32,224.03L265.61,223.55L265.22,223.21L265.03,222.60L264.23,222.26L263.61,222.67L263.09,223.15L262.29,222.94L261.34,223.08L261.36,223.96L260.72,224.44L260.03,224.78L259.49,225.60L259.76,226.15L259.27,226.90L258.83,227.04L258.45,227.52L257.82,227.52L257.19,227.52L256.74,227.86L256.58,228.00L256.20,227.45L255.55,227.17L254.79,227.31L254.87,226.28ZM257.05,217.31L257.56,216.78L257.42,216.33L258.16,216.33L258.17,215.87L258.08,215.48L257.30,215.35L256.98,214.76L256.76,214.25L257.02,213.60L257.28,212.90L258.23,212.90L258.22,213.48L258.79,213.60L258.68,214.57L258.92,214.96L259.40,215.54L259.80,216.26L260.50,216.72L260.35,217.71L259.75,217.87L259.15,218.04L258.51,218.17L257.88,218.30L257.32,218.40L256.76,218.50L257.39,217.71L257.99,217.58ZM253.66,208.87L252.94,209.35L252.23,209.63L251.52,209.90L250.97,209.81L250.42,209.72L249.54,209.60L249.84,209.17L249.05,208.63L250.02,208.09L250.89,208.15L251.76,208.21L252.53,208.18L253.30,208.15ZM268.06,200.66L268.84,200.90L269.62,201.14L269.09,201.38L268.54,201.63L267.98,201.89L267.39,202.04L266.79,202.19L266.18,202.35L265.35,202.02L264.54,201.70L263.75,201.38L263.67,200.80L264.27,200.79L264.88,200.77L265.48,200.75L265.91,200.71L266.33,200.66L266.91,200.66L267.49,200.66Z" fill="#52dab4" fill-rule="evenodd" stroke="#52dab4" stroke-width="0.25"/>
<path d="M296.33,235.42L295.48,235.42L294.62,235.42L293.47,235.29L292.83,235.15L292.19,235.01L291.81,234.19L291.52,234.12L290.66,234.53L289.96,234.32L288.74,233.57L288.25,232.81L287.72,232.12L287.14,231.99L286.59,232.12L287.00,233.15L287.24,233.77L288.00,234.53L288.56,235.70L288.90,235.01L289.06,236.11L289.57,236.11L290.43,236.18L291.20,235.35L291.59,234.74L291.74,235.63L292.38,236.32L293.21,236.59L293.86,237.42L293.48,238.31L293.22,238.65L292.88,239.48L292.32,240.37L291.56,240.92L290.77,241.23L289.98,241.54L289.72,241.95L289.02,242.37L288.32,242.78L287.76,243.12L286.77,243.54L285.77,243.95L284.90,244.02L284.67,243.23L284.43,242.44L284.32,241.47L283.56,240.37L283.04,239.20L282.05,237.97L281.94,237.07L281.43,236.25L280.81,235.56L280.37,234.87L279.58,233.50L279.18,233.43L279.27,232.47L279.06,233.29L278.54,233.38L279.02,234.32L279.54,235.22L279.95,236.32L280.77,237.62L279.63,237.62L278.50,237.62L277.36,237.62L276.23,237.62L275.09,237.62L273.96,237.62L272.82,237.62L271.68,237.62L270.55,237.62L269.41,237.62L268.28,237.62L267.14,237.62L266.01,237.62L264.87,237.62L263.74,237.62L262.60,237.62L261.47,237.62L260.33,237.62L259.19,237.62L258.06,237.62L256.92,237.62L255.79,237.62L254.65,237.62L253.52,237.62L252.38,237.62L251.25,237.62L250.11,237.62L250.53,236.25L251.42,234.87L252.19,233.77L253.16,233.36L254.14,232.47L254.27,231.78L255.08,230.58L255.89,229.37L256.41,228.14L256.74,228.07L257.45,228.55L258.44,228.62L259.10,228.20L260.20,227.65L261.29,227.45L262.25,227.38L263.20,227.31L264.02,227.38L265.00,227.11L265.66,227.24L265.69,228.00L265.28,228.89L265.87,229.92L266.87,230.13L267.49,230.33L268.12,230.54L268.31,231.09L269.44,231.43L270.31,231.92L270.84,231.50L270.80,230.75L271.32,230.20L272.45,230.40L273.61,231.02L274.32,231.16L275.03,231.30L276.16,231.50L276.96,231.02L277.70,231.23L277.96,232.19L278.77,231.23L279.05,230.20L279.30,229.37L279.41,228.41L279.34,227.45L278.52,227.45L277.48,227.93L276.36,227.65L275.83,227.86L274.97,227.45L274.66,227.11L274.55,226.05L274.44,225.00L274.71,224.98L274.86,224.83L275.85,224.76L276.85,224.70L277.84,224.63L278.83,224.56L279.83,224.49L280.19,224.64L280.78,224.61L281.36,224.58L281.65,224.37L282.69,224.32L283.74,224.28L284.78,224.23L285.82,225.43L286.86,226.63L287.94,226.63L289.03,226.63L290.17,226.85L291.30,227.08L292.44,227.31L293.49,227.08L294.53,226.85L295.56,226.63L296.52,226.85L297.49,227.08L298.46,227.31L298.71,228.34L298.94,229.37L298.40,230.75L297.82,232.12L298.00,233.19L298.16,234.26L298.31,235.33L298.44,236.40L298.08,236.25L297.45,235.29Z" fill="#52b6de" fill-rule="evenodd" stroke="#52b6de" stroke-width="0.25"/>
<path d="M281.21,239.34L281.84,240.37L282.16,241.06L282.56,242.09L283.28,242.78L283.88,243.26L284.50,244.16L284.81,244.64L285.83,245.53L286.69,245.29L287.56,245.05L288.71,244.84L289.40,244.64L289.22,245.87L288.68,247.25L288.35,248.11L288.02,248.97L287.40,250.00L286.54,251.17L285.66,251.72L284.79,252.75L283.64,252.75L282.48,252.75L281.32,252.75L280.17,252.75L279.01,252.75L277.85,252.75L276.70,252.75L275.54,252.75L274.38,252.75L273.22,252.75L272.07,252.75L270.91,252.75L269.75,252.75L268.60,252.75L267.44,252.75L266.28,252.75L265.13,252.75L265.20,252.06L265.38,251.03L265.20,250.34L264.61,249.59L263.45,249.79L262.86,249.31L262.28,248.42L261.40,248.42L260.41,248.62L259.45,249.07L258.48,249.52L257.31,249.17L256.15,249.66L255.21,249.72L254.10,249.11L253.23,248.28L252.65,247.73L251.96,246.77L251.50,246.01L250.93,245.26L249.95,244.22L249.90,243.81L249.63,242.64L250.11,241.75L250.31,240.37L250.17,239.34L249.90,238.31L250.11,237.62L251.25,237.62L252.38,237.62L253.52,237.62L254.65,237.62L255.79,237.62L256.92,237.62L258.06,237.62L259.19,237.62L260.33,237.62L261.47,237.62L262.60,237.62L263.74,237.62L264.87,237.62L266.01,237.62L267.14,237.62L268.28,237.62L269.41,237.62L270.55,237.62L271.68,237.62L272.82,237.62L273.96,237.62L275.09,237.62L276.23,237.62L277.36,237.62L278.50,237.62L279.63,237.62L280.77,237.62L280.98,238.31Z" fill="#5274dc" fill-rule="evenodd" stroke="#5274dc" stroke-width="0.25"/>
<path d="M288.20,264.78L287.84,265.81L287.48,266.85L287.16,267.88L286.83,268.91L286.50,269.94L285.86,270.11L285.22,270.28L284.71,269.60L284.57,268.74L284.43,267.88L285.09,266.50L285.17,265.30L285.24,264.10L285.89,263.75L286.55,263.41L287.47,262.38L288.29,261.00L288.58,262.20L288.86,263.41ZM282.54,255.98L282.29,257.01L282.57,257.56L282.68,258.25L282.95,259.11L283.21,259.97L283.18,261.00L283.14,262.03L283.09,263.06L282.59,263.89L281.57,264.78L280.54,265.68L279.75,266.50L279.97,267.88L279.93,268.60L279.89,269.32L278.69,270.28L278.32,270.63L278.15,271.49L277.98,272.35L277.37,272.90L276.73,273.93L275.82,274.75L274.92,275.58L273.82,276.13L272.96,276.13L272.10,276.13L271.39,276.40L270.68,276.68L269.82,276.27L269.82,275.44L269.80,274.62L269.35,273.72L268.95,272.41L268.26,271.31L268.09,270.28L267.92,269.25L267.88,268.22L267.36,267.02L266.84,265.81L266.46,264.44L266.68,263.24L266.90,262.03L267.20,261.00L267.50,259.97L267.34,258.80L267.08,258.01L266.83,257.22L266.77,256.53L266.54,255.36L265.61,254.47L265.09,253.09L265.13,252.75L266.28,252.75L267.44,252.75L268.60,252.75L269.75,252.75L270.91,252.75L272.07,252.75L273.22,252.75L274.38,252.75L275.54,252.75L276.70,252.75L277.85,252.75L279.01,252.75L280.17,252.75L281.32,252.75L282.48,252.75L283.64,252.75L284.79,252.75L283.91,253.92L283.14,254.68Z" fill="#d855cc" fill-rule="evenodd" stroke="#d855cc" stroke-width="0.25"/>
<path d="M330.76,216.52L331.70,217.84L333.39,219.04L332.87,219.17L333.53,220.01L334.17,220.85L333.61,221.18L332.99,220.34L332.35,219.50L331.84,218.67L331.30,217.84L330.58,217.01L329.84,216.19L329.63,215.67ZM275.06,209.23L275.66,209.41L276.27,209.60L276.62,209.23L277.39,209.20L278.16,209.17L278.58,208.75L278.99,208.33L278.73,207.58L278.46,206.85L279.36,206.96L280.10,206.93L280.84,206.90L281.57,206.88L282.31,206.85L282.86,206.88L283.41,206.90L283.89,206.79L284.36,206.67L284.75,206.38L285.13,206.09L285.91,206.18L286.70,206.27L287.23,206.27L287.76,206.27L287.47,205.41L287.56,204.57L287.39,204.01L288.15,204.23L288.91,204.46L289.56,205.13L290.11,205.98L290.65,206.85L291.65,207.43L290.90,206.55L290.58,205.41L290.21,204.57L290.86,204.62L291.51,204.68L292.24,204.57L293.48,205.13L294.44,205.86L293.90,205.13L292.65,204.57L293.24,204.29L293.82,204.01L294.39,203.74L293.80,203.31L294.31,203.12L294.82,202.93L295.43,202.87L296.04,202.80L296.66,202.73L297.26,202.67L297.89,202.53L298.51,202.40L298.71,202.09L298.90,201.78L299.70,201.96L300.49,202.14L301.29,202.26L302.08,202.39L302.88,202.51L303.80,202.77L304.46,203.39L305.08,204.01L305.88,204.01L306.69,204.01L307.45,204.15L308.22,204.29L308.86,204.15L309.50,204.01L310.40,204.20L311.30,204.38L312.20,204.57L312.88,205.13L314.17,205.52L314.76,205.32L315.35,205.13L315.80,204.94L316.25,204.75L316.69,204.57L317.41,204.60L318.14,204.64L318.88,204.68L319.76,204.83L320.65,204.98L321.54,205.13L322.36,205.22L323.18,205.31L324.00,205.41L325.03,205.65L326.07,205.90L327.12,206.15L328.04,206.21L328.72,206.19L329.39,206.17L330.07,206.15L330.66,206.12L331.25,206.09L332.04,206.15L332.83,206.21L333.62,206.27L334.47,206.36L335.32,206.46L336.17,206.55L337.91,207.73L339.61,208.93L339.19,209.11L339.88,209.78L340.54,210.46L340.03,210.67L339.50,210.89L339.32,211.30L339.12,211.70L338.27,211.76L337.41,211.83L336.86,211.95L336.30,212.08L337.18,213.28L337.98,214.25L338.65,215.22L338.73,216.19L338.49,216.72L338.50,217.84L337.64,217.01L336.76,216.19L335.25,214.89L334.19,213.60L334.81,213.28L334.36,212.02L334.21,211.08L333.15,210.95L332.60,211.08L332.05,211.20L332.37,212.33L331.83,212.49L331.29,212.65L330.49,212.55L329.69,212.46L328.71,212.43L327.74,212.39L327.16,212.52L326.58,212.65L326.33,213.12L326.07,213.60L326.32,214.41L326.54,215.22L327.34,215.87L328.60,216.19L329.87,216.52L330.16,217.18L330.95,218.50L331.68,219.50L331.35,220.51L331.23,221.52L331.02,222.87L330.25,223.35L329.30,223.55L329.04,223.55L328.71,222.77L328.38,221.99L328.56,220.81L328.70,219.64L327.93,219.84L327.16,220.04L325.74,219.44L324.32,218.84L323.01,218.21L321.69,217.58L320.37,216.95L319.06,216.33L318.82,217.41L318.52,218.50L317.57,218.47L316.62,218.44L315.67,218.40L314.72,218.37L313.77,218.34L312.82,218.30L311.92,218.27L311.01,218.24L310.11,218.21L309.21,218.17L308.31,218.23L307.41,218.28L306.51,218.34L305.61,218.39L304.70,218.45L303.80,218.50L302.58,218.06L301.37,217.62L300.16,217.18L298.96,216.74L297.76,216.30L296.57,215.87L295.63,215.83L294.69,215.79L293.75,215.74L292.81,215.70L291.87,215.66L290.94,215.62L290.00,215.58L289.07,215.54L288.13,215.50L287.20,215.46L286.27,215.42L285.34,215.38L284.41,215.34L283.48,215.30L282.55,215.26L281.62,215.22L280.74,215.22L279.85,215.22L278.97,215.22L278.08,215.22L277.20,215.22L276.31,215.22L275.43,215.22L274.54,215.22L274.30,213.97L274.05,212.74L273.79,211.53L273.52,210.33L273.25,209.16L272.98,208.00L272.69,206.86L272.40,205.75L272.63,205.81L273.61,206.32L274.28,206.44L274.95,206.55L275.75,206.85L276.56,207.14L277.38,207.43L277.39,208.15L276.74,208.15L276.08,208.15L275.42,208.15ZM182.24,209.35L181.77,209.20L181.30,209.05L180.50,208.99L179.69,208.93L181.39,207.73L183.13,206.55L183.46,206.90L183.80,207.26L184.11,207.49L184.43,207.73L184.76,207.97L185.09,208.21L183.47,208.93ZM333.92,205.13L334.38,205.41L334.05,205.46L333.57,205.29ZM185.66,204.96L186.14,205.04L186.62,205.13L185.75,205.41L185.38,205.13ZM285.81,202.40L285.19,202.60L284.56,202.80L283.92,203.00L283.27,203.20L282.89,203.88L282.46,204.57L283.43,205.64L282.65,205.46L281.88,205.29L281.11,205.13L281.04,204.57L281.21,203.74L281.73,203.25L282.21,202.77L282.78,202.61L283.35,202.46L283.91,202.30L284.46,202.14L285.14,202.27ZM313.58,203.20L313.16,202.67L313.81,202.67L314.45,202.67L315.10,202.67L316.30,202.93L317.51,203.20L317.00,203.29L316.48,203.38L315.95,203.47L315.16,203.38L314.37,203.29ZM295.11,201.14L294.53,200.66L295.19,200.66L295.86,200.66L296.52,200.66L297.19,200.66L298.44,201.14L297.97,201.25L297.50,201.37L297.02,201.48L296.06,201.31Z" fill="#dc9a58" fill-rule="evenodd" stroke="#dc9a58" stroke-width="0.25"/>
<path d="M333.07,231.16L332.45,231.30L331.89,230.40L331.68,229.85L332.15,229.37L332.93,229.92ZM332.89,229.17L332.09,229.37L332.00,229.03L332.78,228.27L333.48,228.31L334.19,228.34L334.58,228.00L334.53,227.31L335.35,226.76L335.54,226.28L335.09,225.26L334.78,224.44L335.34,224.30L336.36,225.60L336.26,226.42L336.70,227.38L336.82,228.68L336.30,228.75L335.81,228.96L335.32,229.17L334.51,229.72L334.19,229.55L334.29,229.85L333.59,230.20L333.26,230.06L333.25,229.37L333.70,229.30L333.44,229.17ZM330.70,228.55L330.04,228.96L329.52,229.03L329.07,228.34L328.85,227.31L328.30,226.83L327.84,226.76L327.47,226.22L326.95,225.46L326.03,225.46L325.45,225.94L325.13,225.60L325.22,224.92L324.55,224.64L324.05,225.26L323.49,225.80L323.43,226.28L324.13,226.63L324.74,227.17L325.44,226.76L326.55,227.17L325.90,227.59L325.80,228.00L325.52,228.68L326.09,229.17L326.88,230.40L327.69,230.95L327.90,231.57L327.74,231.78L328.18,232.26L328.16,233.15L327.88,234.19L327.57,235.01L327.14,235.90L326.41,236.52L325.93,237.00L324.97,237.42L324.58,237.49L323.77,237.76L323.53,237.90L322.66,237.90L321.79,237.90L321.22,237.90L320.15,237.49L319.08,237.07L317.82,236.32L316.54,235.56L315.46,234.36L314.35,233.15L313.35,233.22L312.35,233.29L311.35,233.36L310.35,233.43L309.34,233.50L308.04,232.64L306.73,231.78L305.41,230.92L304.09,230.06L302.77,229.20L301.46,228.34L300.62,228.68L299.79,229.03L298.94,229.37L298.71,228.34L298.46,227.31L297.49,227.08L296.52,226.85L295.56,226.63L294.53,226.85L293.49,227.08L292.44,227.31L291.30,227.08L290.17,226.85L289.03,226.63L287.94,226.63L286.86,226.63L285.82,225.43L284.78,224.23L283.74,224.28L282.69,224.32L281.65,224.37L281.84,224.23L281.76,223.49L280.81,222.94L279.62,222.20L279.27,221.66L279.68,221.05L279.97,220.38L279.06,220.51L278.08,220.85L277.91,221.39L278.74,221.66L278.30,222.13L277.26,222.20L276.65,221.66L277.16,221.25L276.18,220.98L275.64,220.85L275.34,221.66L275.16,221.86L274.73,222.20L274.75,222.74L274.41,223.42L274.61,224.17L274.37,224.35L274.21,223.02L274.04,221.70L273.87,220.38L273.69,219.08L273.50,217.78L273.29,216.49L273.08,215.22L273.81,215.22L274.54,215.22L275.43,215.22L276.31,215.22L277.20,215.22L278.08,215.22L278.97,215.22L279.85,215.22L280.74,215.22L281.62,215.22L282.55,215.26L283.48,215.30L284.41,215.34L285.34,215.38L286.27,215.42L287.20,215.46L288.13,215.50L289.07,215.54L290.00,215.58L290.94,215.62L291.87,215.66L292.81,215.70L293.75,215.74L294.69,215.79L295.63,215.83L296.57,215.87L297.76,216.30L298.96,216.74L300.16,217.18L301.37,217.62L302.58,218.06L303.80,218.50L304.70,218.45L305.61,218.39L306.51,218.34L307.41,218.28L308.31,218.23L309.21,218.17L310.11,218.21L311.01,218.24L311.92,218.27L312.82,218.30L313.77,218.34L314.72,218.37L315.67,218.40L316.62,218.44L317.57,218.47L318.52,218.50L318.82,217.41L319.06,216.33L320.37,216.95L321.69,217.58L323.01,218.21L324.32,218.84L325.74,219.44L327.16,220.04L327.93,219.84L328.70,219.64L328.56,220.81L328.38,221.99L328.71,222.77L329.04,223.55L329.18,224.58L328.63,225.26L328.53,225.60L329.57,226.63L330.32,227.31L330.74,228.14ZM275.23,224.44L275.80,224.47L276.37,224.51L276.94,224.20L277.51,223.89L278.19,224.00L278.88,224.10L279.83,224.49L278.83,224.56L277.84,224.63L276.85,224.70L275.85,224.76L274.86,224.83ZM334.11,222.33L333.84,221.52L334.83,222.03L335.82,222.54L336.66,223.01L336.36,223.45L336.06,223.89L334.89,223.55L334.50,224.23L334.04,223.55L334.02,223.01L334.49,223.01Z" fill="#62d852" fill-rule="evenodd" stroke="#62d852" stroke-width="0.25"/>
<path d="M333.41,247.59L333.18,248.49L332.79,248.90L332.00,248.28L330.99,248.07L330.81,247.94L331.65,247.39L332.20,246.91L332.71,246.08L333.07,246.84ZM306.46,248.62L306.18,247.59L306.17,246.80L306.16,246.01L306.97,246.91L307.36,247.80L307.09,248.49ZM332.11,245.87L331.29,246.42L330.80,245.53L330.55,244.71L331.57,245.05L332.30,244.84L332.68,245.67ZM330.36,243.12L331.61,243.81L331.34,243.95L330.09,243.26L329.53,242.92L328.95,242.09L328.85,241.06L329.03,240.03L330.01,240.03L330.23,241.40L329.93,242.09ZM322.11,239.55L322.81,238.93L323.44,239.27L322.73,240.24ZM321.76,241.54L322.63,242.44L323.08,243.81L323.12,244.84L322.47,245.32L321.74,245.67L320.83,246.77L320.64,245.74L320.33,245.53L319.55,245.19L319.18,244.36L318.22,244.02L317.94,243.47L317.67,243.67L317.69,244.50L317.37,245.67L317.61,246.56L318.14,247.59L318.57,248.07L319.29,248.49L319.93,249.31L319.21,249.31L318.28,248.14L318.02,248.14L317.67,247.59L316.95,247.25L316.98,245.87L316.93,244.50L316.60,243.47L316.32,242.44L316.03,241.40L315.75,241.06L315.08,241.20L314.58,241.89L314.14,241.61L314.12,240.51L313.73,239.69L313.08,239.14L312.57,238.31L312.14,237.28L311.42,237.42L311.16,237.62L310.60,237.76L310.03,237.76L309.46,238.24L309.46,238.65L308.52,239.41L308.04,240.24L307.12,241.27L306.51,242.09L306.16,243.47L306.24,244.50L306.08,245.67L305.63,245.87L305.20,246.63L304.83,247.25L304.21,246.56L303.73,245.19L303.07,243.95L302.62,242.64L302.14,241.75L301.72,240.37L301.51,239.48L301.39,238.31L301.18,237.97L301.18,237.42L300.37,238.45L300.08,238.45L299.12,237.42L299.78,237.21L299.01,236.94L298.56,236.45L298.44,236.40L298.31,235.33L298.16,234.26L298.00,233.19L297.82,232.12L298.40,230.75L298.94,229.37L299.79,229.03L300.62,228.68L301.46,228.34L302.77,229.20L304.09,230.06L305.41,230.92L306.73,231.78L308.04,232.64L309.34,233.50L310.35,233.43L311.35,233.36L312.35,233.29L313.35,233.22L314.35,233.15L315.46,234.36L316.54,235.56L317.82,236.32L319.08,237.07L320.15,237.49L321.22,237.90L321.79,237.90L321.00,238.31L320.81,239.00L320.54,239.82L321.07,240.72ZM323.53,237.90L323.04,238.17L322.96,238.79L322.55,237.97L321.79,237.90L322.66,237.90ZM328.32,236.94L328.40,236.18L328.46,235.42L329.06,235.56L329.05,236.59L328.79,237.62Z" fill="#ad55de" fill-rule="evenodd" stroke="#ad55de" stroke-width="0.25"/>
<path d="M324.11,257.49L325.27,257.49L326.40,258.11L326.31,258.66L325.62,258.56L324.92,258.46L323.77,258.32L322.62,258.04L321.76,257.84L321.13,257.56L321.02,257.43L321.57,256.88L322.21,256.98L322.85,257.08L323.48,257.29ZM338.82,255.02L340.03,253.78L340.61,253.92L341.33,254.23L342.05,254.54L343.20,255.02L344.34,255.71L344.76,256.53L345.72,257.01L345.48,257.91L345.92,258.25L346.33,258.94L346.95,259.63L347.21,259.97L346.63,259.90L345.78,259.69L345.00,258.80L344.18,258.11L343.46,258.39L343.12,258.94L342.64,259.14L341.78,259.01L340.96,258.39L340.36,258.53L340.24,257.91L340.62,257.43L340.10,256.33L339.07,255.91L338.22,255.50L337.64,255.36L337.05,255.57L336.79,254.68L337.68,254.26L336.92,254.26L336.24,253.44L337.12,253.03L337.99,253.30L338.20,254.47ZM348.09,256.53L347.18,257.08L346.32,256.88L346.34,256.53L347.23,256.26L348.14,255.64L348.55,255.71ZM318.27,251.31L319.11,251.92L319.73,252.68L320.34,253.44L320.74,253.92L321.59,254.81L321.50,255.81L321.40,256.81L320.64,256.81L320.08,256.19L319.23,255.50L318.63,254.13L318.35,253.44L317.65,252.61L317.23,251.65L316.33,250.48L315.43,249.79L315.28,248.90L315.93,249.04L316.58,249.17L317.37,250.21ZM325.95,250.00L327.08,249.17L327.32,248.07L327.90,247.94L328.40,248.62L329.24,249.17L328.69,249.79L328.36,250.34L328.41,251.13L328.46,251.92L329.16,252.13L328.35,253.09L327.93,253.78L327.73,254.54L327.42,255.36L326.54,255.36L325.68,254.95L324.92,254.81L324.11,254.74L323.95,253.78L323.44,252.96L323.38,252.41L323.37,251.72L323.71,251.37L324.64,251.03L325.68,250.55ZM318.85,250.76L318.41,249.79L318.20,248.97L318.11,248.28L318.02,248.14L318.28,248.14L319.21,249.31L319.93,249.31L320.03,249.45L320.13,250.69L320.56,251.79L320.16,251.86L319.56,251.37Z" fill="#62e07c" fill-rule="evenodd" stroke="#62e07c" stroke-width="0.25"/>
<path d="M351.90,281.95L350.95,282.69L349.79,283.17L348.72,284.18L347.51,284.72L346.94,284.52L346.37,284.32L346.90,283.84L348.37,282.96L349.21,282.63L350.05,282.29L351.19,281.47L351.96,280.92L352.48,280.58L352.93,280.92L352.74,281.40ZM338.63,281.74L337.92,282.42L336.79,282.69L336.98,281.74L337.29,280.72L338.14,280.99L339.19,280.86ZM355.70,277.98L355.59,278.60L356.68,278.60L356.91,278.67L355.73,279.63L355.27,279.90L354.92,280.24L353.32,281.33L353.10,281.13L353.95,280.24L353.68,279.70L354.39,279.28L355.03,278.19L354.82,277.16L355.04,276.47L355.21,276.95L355.36,277.64ZM326.78,266.91L327.68,266.64L328.59,266.36L329.55,265.81L330.07,265.13L330.70,264.10L331.67,263.41L332.35,262.72L333.28,262.24L333.75,263.06L334.61,263.06L335.09,261.69L335.74,261.14L336.67,260.59L336.95,260.66L337.66,260.83L338.37,261.00L339.11,261.14L338.53,262.03L338.11,262.93L338.32,263.41L339.11,263.89L340.00,264.71L340.67,264.85L341.29,264.30L341.56,263.41L341.72,262.03L341.98,261.34L342.53,260.18L342.97,261.34L342.83,262.38L343.37,262.58L343.76,263.06L343.78,264.10L343.78,265.13L344.19,265.95L345.15,266.85L345.18,268.01L345.88,268.22L346.22,269.60L346.60,270.28L346.36,271.14L346.10,272.00L345.65,273.38L344.68,274.75L343.81,275.44L343.22,276.13L341.99,277.50L341.45,278.53L340.68,278.70L339.91,278.87L338.84,279.63L338.36,279.22L337.44,279.42L336.50,279.15L335.93,278.67L336.06,277.85L335.84,277.16L335.29,277.16L335.91,276.13L336.20,275.44L335.34,275.78L334.51,276.68L334.32,276.47L334.29,275.23L333.53,274.75L332.82,274.41L332.10,274.48L331.37,274.55L330.60,274.75L329.83,274.96L328.54,275.44L328.02,276.06L326.92,276.06L326.06,276.13L324.69,276.82L323.59,276.82L323.38,276.33L323.42,275.78L324.16,274.41L324.30,273.03L324.48,272.00L324.47,270.63L324.41,269.60L324.51,268.74L324.61,267.88L325.18,267.88L325.85,267.33Z" fill="#dc5a4c" fill-rule="evenodd" stroke="#dc5a4c" stroke-width="0.25"/>
<path d="M235.21,200.66L235.92,200.66L236.63,200.66L237.34,200.66L238.05,200.66L238.76,200.66L239.47,200.66L240.18,200.66L240.89,200.66L241.60,200.66L242.30,200.66L243.01,200.66L243.72,200.66L244.43,200.66L245.14,200.66L245.85,200.66L246.56,200.66L247.27,200.66L247.98,200.66L248.69,200.66L249.40,200.66L250.11,200.66L250.82,200.66L251.53,200.66L252.24,200.66L252.95,200.66L253.66,200.66L253.06,200.90L252.73,201.51L252.40,202.14L252.37,203.20L251.64,203.88L250.89,204.57L250.66,205.18L250.44,205.81L249.60,206.32L248.75,206.85L248.09,206.90L247.44,206.96L246.78,207.02L246.11,207.14L245.43,207.26L244.40,207.85L243.35,208.45L242.62,208.69L241.88,208.93L241.20,209.69L240.51,210.46L239.93,211.23L239.34,212.02L238.46,211.83L237.95,211.61L237.45,211.39L236.93,210.27L236.43,209.23L236.26,208.03L236.65,206.85L237.44,206.41L238.22,205.98L237.62,205.69L237.02,205.41L237.04,204.57L237.05,203.47L236.67,202.83L236.00,202.67L235.33,202.51L234.69,202.51L234.05,202.51L233.40,202.51L233.01,202.27L232.63,202.04L232.32,201.53L233.30,201.23L234.26,200.94Z" fill="#52dab4" fill-rule="evenodd" stroke="#52dab4" stroke-width="0.25"/>
<path d="M268.06,200.66L267.49,200.66L266.91,200.66L266.33,200.66L266.97,200.59L267.60,200.52ZM297.19,200.66L296.52,200.66L295.86,200.66L295.19,200.66L294.53,200.66L294.06,200.29L294.78,200.36L295.50,200.43L296.22,200.50L296.94,200.57ZM242.92,199.56L243.69,199.46L244.44,199.36L245.20,199.27L245.94,199.17L246.62,199.18L247.30,199.19L247.98,199.21L248.66,199.22L249.34,199.23L250.02,199.25L250.68,199.32L251.34,199.40L252.01,199.48L252.68,199.56L253.35,199.67L254.03,199.77L254.71,199.88L255.40,199.99L254.83,200.20L254.25,200.43L253.66,200.66L252.95,200.66L252.24,200.66L251.53,200.66L250.82,200.66L250.11,200.66L249.40,200.66L248.69,200.66L247.98,200.66L247.27,200.66L246.56,200.66L245.85,200.66L245.14,200.66L244.43,200.66L243.72,200.66L243.01,200.66L242.30,200.66L241.60,200.66L240.89,200.66L240.18,200.66L239.47,200.66L238.76,200.66L238.05,200.66L237.34,200.66L236.63,200.66L235.92,200.66L235.21,200.66L235.83,200.48L236.76,200.23L237.67,200.00L238.57,199.77L239.30,199.74L240.03,199.70L240.76,199.67L241.48,199.63L242.20,199.60Z" fill="#ffffff" fill-rule="evenodd" stroke="#ffffff" stroke-width="0.25"/>
<path d="M214.22,246.56L214.60,247.04L214.22,247.73L213.89,247.25L213.33,246.84L212.76,247.73L212.14,247.39L211.28,247.04L210.52,246.46L209.77,245.87L209.82,245.05L209.77,244.98L210.39,244.98L211.01,244.98L210.98,245.19L211.62,246.15L212.46,246.63L213.36,246.22ZM170.14,238.86L170.60,238.86L170.67,239.34L169.92,239.62ZM169.79,238.38L170.04,238.31L170.22,238.52L169.75,238.59ZM168.94,238.10L168.99,237.90L169.23,237.83L169.34,238.10ZM217.05,238.86L215.99,239.07L215.08,239.07L214.68,237.97L213.99,237.80L213.29,237.62L212.40,237.90L211.57,237.69L210.99,237.69L211.74,237.42L212.49,237.14L213.67,236.87L214.47,237.31L215.28,237.76L216.35,238.45ZM168.23,237.49L168.46,237.49L168.46,237.69L168.18,237.69ZM217.72,205.13L216.97,205.13L216.22,205.13L215.47,205.13L214.72,205.13L213.96,205.13L213.21,205.13L212.46,205.13L211.71,205.13L210.96,205.13L211.64,204.51L212.38,204.46L213.12,204.40L213.85,204.34L214.74,204.27L215.63,204.20L216.52,204.12L217.04,204.27L217.56,204.42L218.10,204.57ZM222.98,204.57L223.82,204.38L224.65,204.20L225.48,204.01L226.18,203.98L226.88,203.94L227.57,203.90L228.12,204.23L228.69,204.57L229.31,204.85L229.94,205.13L229.15,205.13L228.35,205.13L227.56,205.13L226.76,205.13L225.97,205.13L225.17,205.13L224.38,205.13L223.59,205.13L222.79,205.13ZM208.19,204.85L209.12,204.23L210.08,203.63L210.70,203.61L211.32,203.60L211.94,203.58L212.27,203.88L212.62,204.18L211.60,204.49L210.58,204.81L209.55,205.13L208.90,205.13L208.54,204.99ZM220.40,203.09L219.71,203.13L219.01,203.16L218.32,203.20L217.52,203.29L216.72,203.39L215.92,203.48L215.12,203.58L214.50,203.54L213.88,203.51L213.26,203.47L214.88,202.51L215.70,202.47L216.51,202.44L217.33,202.40L218.12,202.39L218.91,202.37L219.70,202.35L220.42,202.39L221.15,202.42L221.88,202.46ZM226.78,200.20L227.57,200.07L228.35,199.94L229.12,199.81L229.89,199.69L230.59,199.64L231.29,199.59L231.99,199.55L232.69,199.50L233.39,199.46L234.08,199.41L234.77,199.36L235.42,199.40L236.07,199.44L236.73,199.48L237.39,199.52L238.05,199.56L237.40,199.90L236.62,200.08L235.83,200.27L235.03,200.46L234.22,200.66L233.27,200.90L232.31,201.14L231.34,201.38L230.04,201.96L228.72,202.56L228.11,202.54L228.16,203.20L227.45,203.33L226.74,203.47L226.04,203.46L225.33,203.45L224.63,203.44L223.93,203.43L223.23,203.42L223.98,202.67L224.51,202.55L225.04,202.44L224.45,202.42L223.87,202.40L224.89,201.48L224.68,201.19L224.48,200.90L225.64,200.54ZM353.81,266.64L354.50,267.33L355.19,268.01L354.87,268.15L354.31,267.53L353.74,266.91ZM362.68,264.65L362.48,265.26L361.82,265.13L361.90,264.78ZM356.46,263.27L356.76,264.30L356.43,263.96L356.03,263.06ZM331.98,259.76L331.83,259.56L332.75,258.94L333.83,258.53L333.34,258.87L332.66,259.32ZM331.20,258.73L330.38,258.80L329.56,258.87L328.39,258.87L327.23,258.87L326.65,258.73L326.68,258.39L327.54,258.53L328.71,258.46L329.58,258.53L330.40,258.46L331.22,258.39ZM350.67,257.22L351.78,257.91L352.88,258.59L353.65,259.63L352.96,259.28L352.27,258.94L351.59,258.42L350.91,257.91ZM334.45,254.81L335.26,254.92L336.08,255.02L335.89,255.36L335.22,255.29L334.55,255.23ZM329.87,252.54L330.12,252.54L330.27,253.64L330.86,253.37L331.68,253.37L331.44,253.44L330.55,254.06L331.11,255.09L331.37,255.91L330.60,255.98L330.36,254.61L330.01,254.81L329.97,255.67L329.94,256.53L329.41,256.53L329.40,255.36L329.07,254.81L329.31,254.47L329.70,253.09ZM334.19,252.20L334.18,251.58L334.77,251.72L334.49,252.47L334.95,253.30L334.32,252.96ZM214.56,240.10L215.16,240.17L215.75,240.24L215.55,240.51L214.70,240.44ZM221.87,240.10L221.73,240.37L220.93,240.37L220.96,240.03ZM218.54,240.58L217.71,240.30L216.81,240.10L217.83,239.07L218.63,239.10L219.43,239.14L220.33,239.96L219.33,240.24Z" fill="none" fill-rule="evenodd" stroke="none" stroke-width="0.25"/>
<path d="M220.46,281.61L220.12,280.58L219.79,279.56L219.64,278.19L219.96,276.82L219.93,275.44L219.74,274.41L219.57,273.38L219.33,272.00L219.40,270.97L219.48,269.94L219.43,268.56L219.40,267.19L219.28,266.26L219.16,265.33L218.09,264.44L217.02,263.75L215.94,263.06L215.34,262.03L214.60,260.66L214.11,259.63L213.62,258.59L212.99,257.56L212.19,256.53L212.33,255.50L212.90,254.81L212.59,253.78L212.70,252.75L213.00,252.06L213.59,251.72L213.98,250.93L214.38,250.14L214.43,249.21L214.49,248.28L214.22,247.73L213.89,247.25L213.33,246.84L212.76,247.73L212.14,247.39L211.28,247.04L210.52,246.46L209.77,245.87L209.82,245.05L209.77,244.98L208.87,243.81L207.75,243.40L206.61,243.12L205.59,241.89L204.71,241.92L203.84,241.95L203.16,241.65L202.47,241.34L201.80,240.96L201.13,240.58L200.21,239.96L199.30,239.34L199.11,238.31L199.35,237.14L198.88,236.52L197.96,235.35L197.58,234.60L197.22,233.84L196.42,232.81L196.30,232.05L196.19,231.30L195.60,230.88L195.49,232.12L195.95,233.50L196.36,234.87L196.79,236.11L197.11,236.87L196.76,236.59L195.84,235.70L196.00,234.46L195.48,234.05L194.96,233.64L195.31,232.95L194.68,231.64L194.48,230.40L194.07,229.37L193.57,229.17L193.07,228.96L192.91,227.59L192.90,226.83L192.66,225.94L192.84,224.92L193.61,223.55L194.37,222.30L195.14,221.05L195.40,220.31L195.68,219.57L196.51,219.64L196.72,219.17L196.78,219.04L196.26,218.44L195.78,218.21L195.31,217.97L195.73,217.05L195.61,216.39L195.51,215.74L195.72,214.89L195.99,213.73L195.79,213.28L195.61,212.84L194.72,212.78L194.43,212.46L194.15,212.14L193.40,212.08L192.64,212.02L192.20,211.76L191.76,211.51L190.24,212.08L189.31,212.30L188.37,212.52L190.41,211.26L188.87,211.83L187.06,212.65L185.89,213.54L184.34,214.12L182.85,214.63L181.89,214.86L180.93,215.09L180.00,215.28L179.07,215.48L180.39,215.02L181.71,214.57L182.64,214.25L183.58,213.92L185.38,212.90L184.80,212.78L183.96,212.84L183.11,212.90L184.00,212.02L183.60,211.86L183.20,211.70L183.48,211.08L183.85,210.58L185.19,209.96L186.44,209.63L187.68,209.29L187.98,209.05L187.09,209.14L186.19,209.23L185.46,209.11L185.42,208.63L187.04,207.73L188.67,206.85L190.21,206.35L191.74,205.86L192.81,205.65L193.86,205.45L194.92,205.24L195.43,205.35L195.95,205.46L196.47,205.58L197.00,205.69L197.62,205.79L198.24,205.90L198.86,206.00L199.49,206.10L200.12,206.21L200.90,206.27L201.68,206.32L202.46,206.38L203.35,206.25L204.23,206.12L205.12,205.99L205.99,205.86L206.69,206.00L207.38,206.13L208.09,206.27L208.68,206.41L209.27,206.55L209.87,206.70L210.48,206.85L211.20,206.88L211.92,206.90L212.65,206.93L213.37,206.96L214.14,207.06L214.91,207.16L215.69,207.26L216.48,207.18L217.26,207.10L218.04,207.02L219.73,205.98L221.01,204.96L221.20,205.46L221.41,205.98L221.71,206.41L222.02,206.85L222.88,206.55L223.72,206.27L223.85,206.99L224.00,207.73L223.07,208.08L222.14,208.44L222.56,208.53L222.97,208.63L223.39,209.02L223.82,209.41L223.11,209.84L222.37,209.70L221.63,209.56L220.90,209.41L221.28,208.85L220.15,209.54L218.94,209.99L217.72,210.46L215.96,211.70L215.03,212.78L215.25,213.35L215.50,213.92L216.32,214.15L217.16,214.37L217.68,214.73L218.22,215.09L218.83,215.31L219.45,215.54L219.42,216.59L219.43,217.64L220.17,216.59L220.92,215.54L222.53,214.25L222.94,213.44L223.36,212.65L223.57,211.39L224.33,210.46L224.98,210.52L225.63,210.58L226.28,210.64L226.77,211.01L227.27,211.39L227.14,212.14L227.01,212.90L227.75,212.84L228.48,212.78L229.62,211.83L229.79,213.03L230.00,214.25L230.60,214.89L231.21,215.54L231.45,216.26L231.71,216.98L230.76,217.58L229.81,218.17L228.95,218.24L228.08,218.30L227.22,218.37L226.56,218.44L225.90,218.50L224.81,219.07L223.71,219.64L224.85,219.34L225.97,219.04L226.65,219.30L226.15,220.04L226.12,220.98L226.95,221.25L227.78,221.52L227.05,221.79L226.31,222.06L226.24,222.09L225.53,222.38L224.82,222.67L223.87,222.33L223.09,222.71L222.31,223.08L222.02,224.03L221.09,224.44L219.90,224.85L219.67,225.60L218.63,226.42L218.07,227.45L218.07,228.55L217.14,228.96L215.83,229.78L214.46,230.88L214.07,232.12L214.14,233.15L214.24,234.19L213.93,235.42L213.49,235.29L213.28,234.53L212.95,233.50L212.75,232.26L211.89,232.33L211.16,231.85L210.45,231.88L209.74,231.92L209.31,232.81L208.46,232.60L207.79,232.47L207.12,232.33L206.21,232.60L205.45,233.19L204.70,233.77L204.39,234.87L204.30,235.22L204.00,236.25L203.73,237.28L203.89,238.52L204.33,239.55L205.07,240.03L205.88,240.00L206.69,239.96L207.30,239.69L207.78,238.65L207.96,238.10L208.83,238.04L209.70,237.97L209.41,239.34L208.87,240.03L208.74,240.82L208.62,241.61L209.28,241.71L209.93,241.82L210.68,242.13L211.43,242.44L211.29,243.30L211.17,244.16L211.01,244.98L210.98,245.19L211.62,246.15L212.46,246.63L213.36,246.22L214.22,246.56L214.60,247.04L215.40,246.22L215.73,245.46L216.63,244.98L217.82,244.57L218.19,245.19L217.84,246.22L218.31,246.22L218.96,244.84L219.98,245.46L220.62,245.46L221.26,245.46L222.42,245.39L223.59,245.39L223.85,246.01L224.69,246.91L225.53,247.94L226.27,248.62L226.91,248.66L227.55,248.69L228.42,248.90L229.57,249.86L229.85,250.69L230.42,251.51L230.53,252.75L231.30,253.44L232.03,253.44L232.76,253.44L233.64,254.47L234.37,254.57L235.11,254.68L235.84,254.74L236.57,254.81L237.45,255.50L238.34,256.19L239.10,256.53L239.17,257.39L239.25,258.25L238.98,259.28L238.14,260.52L237.31,261.69L237.07,263.06L237.12,264.03L237.17,264.99L236.78,266.36L236.35,267.74L235.66,268.56L234.95,268.67L234.24,268.77L233.14,269.25L232.39,270.49L232.28,271.42L232.19,272.35L231.58,273.38L231.08,274.62L230.30,275.99L229.58,276.68L228.48,276.68L227.31,276.33L228.25,277.50L228.32,278.26L228.39,279.01L227.38,279.35L226.73,279.46L226.07,279.56L226.25,280.72L225.53,280.82L224.80,280.92L225.80,282.01L225.69,282.83L225.59,283.64L225.07,284.08L224.56,284.52L225.70,285.66L225.36,286.40L225.04,287.13L225.01,287.99L225.55,288.58L225.03,288.65L224.95,289.12L225.16,288.98L225.50,288.72L226.34,289.50L227.18,290.28L226.32,290.54L225.23,290.28L224.21,289.63L223.30,288.98L222.39,288.32L221.66,287.16L220.94,286.00L220.89,285.16L220.85,284.32L220.64,282.96ZM214.70,240.44L214.56,240.10L215.16,240.17L215.75,240.24L215.55,240.51ZM220.96,240.03L221.87,240.10L221.73,240.37L220.93,240.37ZM218.54,240.58L217.71,240.30L216.81,240.10L217.83,239.07L218.63,239.10L219.43,239.14L220.33,239.96L219.33,240.24ZM169.92,239.62L170.14,238.86L170.60,238.86L170.67,239.34ZM169.79,238.38L170.04,238.31L170.22,238.52L169.75,238.59ZM168.94,238.10L168.99,237.90L169.23,237.83L169.34,238.10ZM210.99,237.69L211.74,237.42L212.49,237.14L213.67,236.87L214.47,237.31L215.28,237.76L216.35,238.45L217.05,238.86L215.99,239.07L215.08,239.07L214.68,237.97L213.99,237.80L213.29,237.62L212.40,237.90L211.57,237.69ZM168.18,237.69L168.23,237.49L168.46,237.49L168.46,237.69ZM231.39,218.84L232.00,218.94L232.60,219.04L232.46,220.17L231.80,220.71L230.92,220.51L230.26,220.11L229.66,220.11L229.07,220.11L229.82,219.14L230.57,218.17L231.56,217.44L231.47,218.14ZM183.47,208.93L182.24,209.35L181.77,209.20L181.30,209.05L180.50,208.99L179.69,208.93L181.39,207.73L183.13,206.55L183.46,206.90L183.80,207.26L184.11,207.49L184.43,207.73L184.76,207.97L185.09,208.21ZM226.51,208.63L227.98,207.61L227.44,207.08L226.92,206.55L226.30,206.42L225.68,206.28L225.07,206.15L224.50,206.06L223.93,205.98L223.31,205.69L222.70,205.41L222.79,205.13L222.98,204.57L223.82,204.38L224.65,204.20L225.48,204.01L226.18,203.98L226.88,203.94L227.57,203.90L228.12,204.23L228.69,204.57L229.31,204.85L229.94,205.13L230.54,205.49L231.15,205.86L231.17,206.55L231.70,207.14L232.26,207.73L232.76,208.03L232.00,208.48L231.22,208.93L229.95,210.15L229.34,210.24L228.72,210.33L228.17,210.09L227.62,209.84L227.11,209.54L226.61,209.23L225.70,209.26L224.78,209.29L225.65,208.96ZM210.49,205.98L210.78,205.29L210.96,205.13L211.64,204.51L212.38,204.46L213.12,204.40L213.85,204.34L214.74,204.27L215.63,204.20L216.52,204.12L217.04,204.27L217.56,204.42L218.10,204.57L217.72,205.13L217.11,206.09L216.04,206.35L214.96,206.61L214.06,206.67L213.15,206.73L212.24,206.79L211.34,206.85L210.90,206.41ZM246.78,207.02L246.11,207.14L245.43,207.26L244.40,207.85L243.35,208.45L242.62,208.69L241.88,208.93L241.20,209.69L240.51,210.46L239.93,211.23L239.34,212.02L238.46,211.83L237.95,211.61L237.45,211.39L236.93,210.27L236.43,209.23L236.26,208.03L236.65,206.85L237.44,206.41L238.22,205.98L237.62,205.69L237.02,205.41L237.04,204.57L237.05,203.47L236.67,202.83L236.00,202.67L235.33,202.51L234.69,202.51L234.05,202.51L233.40,202.51L233.01,202.27L232.63,202.04L232.32,201.53L233.30,201.23L234.26,200.94L235.21,200.66L235.83,200.48L236.76,200.23L237.67,200.00L238.57,199.77L239.30,199.74L240.03,199.70L240.76,199.67L241.48,199.63L242.20,199.60L242.92,199.56L243.69,199.46L244.44,199.36L245.20,199.27L245.94,199.17L246.62,199.18L247.30,199.19L247.98,199.21L248.66,199.22L249.34,199.23L250.02,199.25L250.68,199.32L251.34,199.40L252.01,199.48L252.68,199.56L253.35,199.67L254.03,199.77L254.71,199.88L255.40,199.99L254.83,200.20L254.25,200.43L253.66,200.66L253.06,200.90L252.73,201.51L252.40,202.14L252.37,203.20L251.64,203.88L250.89,204.57L250.66,205.18L250.44,205.81L249.60,206.32L248.75,206.85L248.09,206.90L247.44,206.96ZM212.62,204.18L211.60,204.49L210.58,204.81L209.55,205.13L209.19,205.24L208.90,205.13L208.54,204.99L208.19,204.85L209.12,204.23L210.08,203.63L210.70,203.61L211.32,203.60L211.94,203.58L212.27,203.88ZM185.38,205.13L185.66,204.96L186.14,205.04L186.62,205.13L185.75,205.41ZM221.88,202.46L220.40,203.09L219.71,203.13L219.01,203.16L218.32,203.20L217.52,203.29L216.72,203.39L215.92,203.48L215.12,203.58L214.50,203.54L213.88,203.51L213.26,203.47L214.88,202.51L215.70,202.47L216.51,202.44L217.33,202.40L218.12,202.39L218.91,202.37L219.70,202.35L220.42,202.39L221.15,202.42ZM228.72,202.56L228.11,202.54L228.16,203.20L227.45,203.33L226.74,203.47L226.04,203.46L225.33,203.45L224.63,203.44L223.93,203.43L223.23,203.42L223.98,202.67L224.51,202.55L225.04,202.44L224.45,202.42L223.87,202.40L224.89,201.48L224.68,201.19L224.48,200.90L225.64,200.54L226.78,200.20L227.57,200.07L228.35,199.94L229.12,199.81L229.89,199.69L230.59,199.64L231.29,199.59L231.99,199.55L232.69,199.50L233.39,199.46L234.08,199.41L234.77,199.36L235.42,199.40L236.07,199.44L236.73,199.48L237.39,199.52L238.05,199.56L237.40,199.90L236.62,200.08L235.83,200.27L235.03,200.46L234.22,200.66L233.27,200.90L232.31,201.14L231.34,201.38L230.04,201.96ZM286.55,263.41L287.47,262.38L288.29,261.00L288.58,262.20L288.86,263.41L288.20,264.78L287.84,265.81L287.48,266.85L287.16,267.88L286.83,268.91L286.50,269.94L285.86,270.11L285.22,270.28L284.71,269.60L284.57,268.74L284.43,267.88L285.09,266.50L285.17,265.30L285.24,264.10L285.89,263.75ZM280.54,265.68L279.75,266.50L279.97,267.88L279.93,268.60L279.89,269.32L278.69,270.28L278.32,270.63L278.15,271.49L277.98,272.35L277.37,272.90L276.73,273.93L275.82,274.75L274.92,275.58L273.82,276.13L272.96,276.13L272.10,276.13L271.39,276.40L270.68,276.68L269.82,276.27L269.82,275.44L269.80,274.62L269.35,273.72L268.95,272.41L268.26,271.31L268.09,270.28L267.92,269.25L267.88,268.22L267.36,267.02L266.84,265.81L266.46,264.44L266.68,263.24L266.90,262.03L267.20,261.00L267.50,259.97L267.34,258.80L267.08,258.01L266.83,257.22L266.77,256.53L266.54,255.36L265.61,254.47L265.09,253.09L265.13,252.75L265.20,252.06L265.38,251.03L265.20,250.34L264.61,249.59L263.45,249.79L262.86,249.31L262.28,248.42L261.40,248.42L260.41,248.62L259.45,249.07L258.48,249.52L257.31,249.17L256.15,249.66L255.21,249.72L254.10,249.11L253.23,248.28L252.65,247.73L251.96,246.77L251.50,246.01L250.93,245.26L249.95,244.22L249.90,243.81L249.63,242.64L250.11,241.75L250.31,240.37L250.17,239.34L249.90,238.31L250.11,237.62L250.53,236.25L251.42,234.87L252.19,233.77L253.16,233.36L254.14,232.47L254.27,231.78L255.08,230.58L255.89,229.37L256.41,228.14L256.74,228.07L257.45,228.55L258.44,228.62L259.10,228.20L260.20,227.65L261.29,227.45L262.25,227.38L263.20,227.31L264.02,227.38L265.00,227.11L265.66,227.24L265.69,228.00L265.28,228.89L265.87,229.92L266.87,230.13L267.49,230.33L268.12,230.54L268.31,231.09L269.44,231.43L270.31,231.92L270.84,231.50L270.80,230.75L271.32,230.20L272.45,230.40L273.61,231.02L274.32,231.16L275.03,231.30L276.16,231.50L276.96,231.02L277.70,231.23L277.96,232.19L278.77,231.23L279.05,230.20L279.30,229.37L279.41,228.41L279.34,227.45L278.52,227.45L277.48,227.93L276.36,227.65L275.83,227.86L274.97,227.45L274.66,227.11L274.54,226.97L274.20,226.28L273.86,225.60L273.75,225.05L274.44,225.00L274.71,224.98L274.86,224.83L275.23,224.44L275.80,224.47L276.37,224.51L276.94,224.20L277.51,223.89L278.19,224.00L278.88,224.10L279.83,224.49L280.19,224.64L280.78,224.61L281.36,224.58L281.65,224.37L281.84,224.23L281.76,223.49L280.81,222.94L279.62,222.20L279.27,221.66L279.68,221.05L279.97,220.38L279.06,220.51L278.08,220.85L277.91,221.39L278.74,221.66L278.30,222.13L277.26,222.20L276.65,221.66L277.16,221.25L276.18,220.98L275.64,220.85L275.34,221.66L275.16,221.86L274.73,222.20L274.75,222.74L274.41,223.42L274.61,224.17L274.37,224.35L273.87,224.71L273.33,224.71L272.54,224.78L272.03,225.05L272.36,225.74L272.01,226.08L272.71,226.63L272.21,227.17L271.98,227.72L271.52,227.45L271.14,226.76L271.16,226.28L270.56,225.53L270.08,224.92L270.06,224.03L269.49,223.55L268.76,223.08L267.99,222.67L267.53,222.20L267.13,221.72L266.80,221.39L266.18,221.52L266.10,221.99L266.29,222.54L266.84,222.87L267.37,223.76L268.20,224.23L269.04,224.71L269.61,225.19L269.30,225.26L268.60,225.39L268.92,226.01L268.61,226.28L268.19,226.63L268.13,225.60L267.83,225.12L267.04,224.44L266.32,224.03L265.61,223.55L265.22,223.21L265.03,222.60L264.23,222.26L263.61,222.67L263.09,223.15L262.29,222.94L261.34,223.08L261.36,223.96L260.72,224.44L260.03,224.78L259.49,225.60L259.76,226.15L259.27,226.90L258.83,227.04L258.45,227.52L257.82,227.52L257.19,227.52L256.74,227.86L256.58,228.00L256.20,227.45L255.55,227.17L254.79,227.31L254.87,226.28L254.50,226.15L254.87,224.92L254.96,223.96L254.72,223.21L255.43,222.74L256.22,222.81L257.01,222.87L257.85,222.91L258.70,222.94L258.86,222.06L259.02,221.18L258.36,220.31L257.80,219.94L257.24,219.57L258.12,219.30L258.88,219.37L258.99,218.70L259.75,218.84L260.41,218.37L261.16,217.71L261.89,216.85L262.13,216.39L263.11,216.26L263.94,215.93L263.88,214.89L263.59,214.05L264.13,213.80L264.66,213.54L264.72,214.44L264.78,215.22L265.07,215.87L265.78,215.54L266.54,215.87L267.26,215.64L267.97,215.41L268.71,215.48L269.37,215.28L269.83,214.63L269.75,214.05L269.93,213.67L270.43,213.48L271.18,213.41L270.78,212.97L270.70,212.46L271.27,212.39L271.85,212.33L272.79,212.33L273.66,212.02L272.93,211.86L272.20,211.70L271.30,211.89L270.71,211.86L270.13,211.83L269.50,211.39L269.45,210.46L269.92,209.90L270.39,209.35L270.98,208.93L270.00,208.45L269.36,208.57L269.00,209.05L268.22,209.84L267.63,210.46L267.65,211.39L268.43,212.02L268.35,212.52L267.97,213.22L267.57,213.92L267.34,214.50L266.56,214.96L265.83,214.37L265.59,213.80L264.93,212.71L264.58,212.33L264.36,212.65L263.45,213.22L262.74,213.22L262.25,212.78L261.98,211.89L261.95,211.08L262.16,210.46L262.71,210.15L263.26,209.84L264.12,209.35L264.64,208.84L265.14,208.33L265.92,207.43L266.06,206.85L266.88,206.55L267.63,205.98L268.25,205.89L268.86,205.81L269.55,205.58L270.22,205.35L270.76,205.41L271.29,205.46L271.85,205.61L272.40,205.75L272.63,205.81L273.61,206.32L274.28,206.44L274.95,206.55L275.75,206.85L276.56,207.14L277.38,207.43L277.39,208.15L276.74,208.15L276.08,208.15L275.42,208.15L275.06,209.23L275.66,209.41L276.27,209.60L276.62,209.23L277.39,209.20L278.16,209.17L278.58,208.75L278.99,208.33L278.73,207.58L278.46,206.85L279.36,206.96L280.10,206.93L280.84,206.90L281.57,206.88L282.31,206.85L282.86,206.88L283.41,206.90L283.89,206.79L284.36,206.67L284.75,206.38L285.13,206.09L285.91,206.18L286.70,206.27L287.23,206.27L287.76,206.27L287.47,205.41L287.56,204.57L287.39,204.01L288.15,204.23L288.91,204.46L289.56,205.13L290.11,205.98L290.65,206.85L291.65,207.43L290.90,206.55L290.58,205.41L290.21,204.57L290.86,204.62L291.51,204.68L292.24,204.57L293.48,205.13L294.44,205.86L293.90,205.13L292.65,204.57L293.24,204.29L293.82,204.01L294.39,203.74L293.80,203.31L294.31,203.12L294.82,202.93L295.43,202.87L296.04,202.80L296.66,202.73L297.26,202.67L297.89,202.53L298.51,202.40L298.71,202.09L298.90,201.78L299.70,201.96L300.49,202.14L301.29,202.26L302.08,202.39L302.88,202.51L303.80,202.77L304.46,203.39L305.08,204.01L305.88,204.01L306.69,204.01L307.45,204.15L308.22,204.29L308.86,204.15L309.50,204.01L310.40,204.20L311.30,204.38L312.20,204.57L312.88,205.13L314.17,205.52L314.76,205.32L315.35,205.13L315.80,204.94L316.25,204.75L316.69,204.57L317.41,204.60L318.14,204.64L318.88,204.68L319.76,204.83L320.65,204.98L321.54,205.13L322.36,205.22L323.18,205.31L324.00,205.41L325.03,205.65L326.07,205.90L327.12,206.15L328.04,206.21L328.72,206.19L329.39,206.17L330.07,206.15L330.66,206.12L331.25,206.09L332.04,206.15L332.83,206.21L333.62,206.27L334.47,206.36L335.32,206.46L336.17,206.55L337.91,207.73L339.61,208.93L339.19,209.11L339.88,209.78L340.54,210.46L340.03,210.67L339.50,210.89L339.32,211.30L339.12,211.70L338.27,211.76L337.41,211.83L336.86,211.95L336.30,212.08L337.18,213.28L337.98,214.25L338.65,215.22L338.73,216.19L338.49,216.72L338.50,217.84L337.64,217.01L336.76,216.19L335.25,214.89L334.19,213.60L334.81,213.28L334.36,212.02L334.21,211.08L333.15,210.95L332.60,211.08L332.05,211.20L332.37,212.33L331.83,212.49L331.29,212.65L330.49,212.55L329.69,212.46L328.71,212.43L327.74,212.39L327.16,212.52L326.58,212.65L326.33,213.12L326.07,213.60L326.32,214.41L326.54,215.22L327.34,215.87L328.60,216.19L329.87,216.52L330.16,217.18L330.95,218.50L331.68,219.50L331.35,220.51L331.23,221.52L331.02,222.87L330.25,223.35L329.30,223.55L329.04,223.55L329.18,224.58L328.63,225.26L328.53,225.60L329.57,226.63L330.32,227.31L330.74,228.14L330.70,228.55L330.04,228.96L329.52,229.03L329.07,228.34L328.85,227.31L328.30,226.83L327.84,226.76L327.47,226.22L326.95,225.46L326.03,225.46L325.45,225.94L325.13,225.60L325.22,224.92L324.55,224.64L324.05,225.26L323.49,225.80L323.43,226.28L324.13,226.63L324.74,227.17L325.44,226.76L326.55,227.17L325.90,227.59L325.80,228.00L325.52,228.68L326.09,229.17L326.88,230.40L327.69,230.95L327.90,231.57L327.74,231.78L328.18,232.26L328.16,233.15L327.88,234.19L327.57,235.01L327.14,235.90L326.41,236.52L325.93,237.00L324.97,237.42L324.58,237.49L323.77,237.76L323.53,237.90L323.04,238.17L322.96,238.79L322.55,237.97L321.79,237.90L321.00,238.31L320.81,239.00L320.54,239.82L321.07,240.72L321.76,241.54L322.63,242.44L323.08,243.81L323.12,244.84L322.47,245.32L321.74,245.67L320.83,246.77L320.64,245.74L320.33,245.53L319.55,245.19L319.18,244.36L318.22,244.02L317.94,243.47L317.67,243.67L317.69,244.50L317.37,245.67L317.61,246.56L318.14,247.59L318.57,248.07L319.29,248.49L319.93,249.31L320.03,249.45L320.13,250.69L320.56,251.79L320.16,251.86L319.56,251.37L318.85,250.76L318.41,249.79L318.20,248.97L318.11,248.28L318.02,248.14L317.67,247.59L316.95,247.25L316.98,245.87L316.93,244.50L316.60,243.47L316.32,242.44L316.03,241.40L315.75,241.06L315.08,241.20L314.58,241.89L314.14,241.61L314.12,240.51L313.73,239.69L313.08,239.14L312.57,238.31L312.14,237.28L311.42,237.42L311.16,237.62L310.60,237.76L310.03,237.76L309.46,238.24L309.46,238.65L308.52,239.41L308.04,240.24L307.12,241.27L306.51,242.09L306.16,243.47L306.24,244.50L306.08,245.67L305.63,245.87L305.20,246.63L304.83,247.25L304.21,246.56L303.73,245.19L303.07,243.95L302.62,242.64L302.14,241.75L301.72,240.37L301.51,239.48L301.39,238.31L301.18,237.97L301.18,237.42L300.37,238.45L300.08,238.45L299.12,237.42L299.78,237.21L299.01,236.94L298.56,236.45L298.44,236.40L298.08,236.25L297.45,235.29L296.33,235.42L295.48,235.42L294.62,235.42L293.47,235.29L292.83,235.15L292.19,235.01L291.81,234.19L291.52,234.12L290.66,234.53L289.96,234.32L288.74,233.57L288.25,232.81L287.72,232.12L287.14,231.99L286.59,232.12L287.00,233.15L287.24,233.77L288.00,234.53L288.56,235.70L288.90,235.01L289.06,236.11L289.57,236.11L290.43,236.18L291.20,235.35L291.59,234.74L291.74,235.63L292.38,236.32L293.21,236.59L293.86,237.42L293.48,238.31L293.22,238.65L292.88,239.48L292.32,240.37L291.56,240.92L290.77,241.23L289.98,241.54L289.72,241.95L289.02,242.37L288.32,242.78L287.76,243.12L286.77,243.54L285.77,243.95L284.90,244.02L284.67,243.23L284.43,242.44L284.32,241.47L283.56,240.37L283.04,239.20L282.05,237.97L281.94,237.07L281.43,236.25L280.81,235.56L280.37,234.87L279.58,233.50L279.18,233.43L279.27,232.47L279.06,233.29L278.54,233.38L279.02,234.32L279.54,235.22L279.95,236.32L280.77,237.62L280.98,238.31L281.21,239.34L281.84,240.37L282.16,241.06L282.56,242.09L283.28,242.78L283.88,243.26L284.50,244.16L284.81,244.64L285.83,245.53L286.69,245.29L287.56,245.05L288.71,244.84L289.40,244.64L289.22,245.87L288.68,247.25L288.35,248.11L288.02,248.97L287.40,250.00L286.54,251.17L285.66,251.72L284.79,252.75L283.91,253.92L283.14,254.68L282.54,255.98L282.29,257.01L282.57,257.56L282.68,258.25L282.95,259.11L283.21,259.97L283.18,261.00L283.14,262.03L283.09,263.06L282.59,263.89L281.57,264.78ZM321.76,257.84L321.13,257.56L321.02,257.43L321.57,256.88L322.21,256.98L322.85,257.08L323.48,257.29L324.11,257.49L325.27,257.49L326.40,258.11L326.31,258.66L325.62,258.56L324.92,258.46L323.77,258.32L322.62,258.04ZM320.08,256.19L319.23,255.50L318.63,254.13L318.35,253.44L317.65,252.61L317.23,251.65L316.33,250.48L315.43,249.79L315.28,248.90L315.93,249.04L316.58,249.17L317.37,250.21L318.27,251.31L319.11,251.92L319.73,252.68L320.34,253.44L320.74,253.92L321.59,254.81L321.50,255.81L321.40,256.81L320.64,256.81ZM328.36,250.34L328.41,251.13L328.46,251.92L329.16,252.13L328.35,253.09L327.93,253.78L327.73,254.54L327.42,255.36L326.54,255.36L325.68,254.95L324.92,254.81L324.11,254.74L323.95,253.78L323.44,252.96L323.38,252.41L323.37,251.72L323.71,251.37L324.64,251.03L325.68,250.55L325.95,250.00L327.08,249.17L327.32,248.07L327.90,247.94L328.40,248.62L329.24,249.17L328.69,249.79ZM306.16,246.01L306.97,246.91L307.36,247.80L307.09,248.49L306.46,248.62L306.18,247.59L306.17,246.80ZM322.73,240.24L322.11,239.55L322.81,238.93L323.44,239.27ZM256.65,217.11L256.15,217.18L255.39,217.44L254.49,217.31L254.79,216.52L254.73,215.87L255.48,215.67L255.75,215.09L256.48,215.09L256.86,215.48L256.69,216.00ZM256.98,214.76L256.76,214.25L257.02,213.60L257.28,212.90L258.23,212.90L258.22,213.48L258.79,213.60L258.68,214.57L258.92,214.96L259.40,215.54L259.80,216.26L260.50,216.72L260.35,217.71L259.75,217.87L259.15,218.04L258.51,218.17L257.88,218.30L257.32,218.40L256.76,218.50L257.39,217.71L257.99,217.58L257.05,217.31L257.56,216.78L257.42,216.33L258.16,216.33L258.17,215.87L258.08,215.48L257.30,215.35ZM251.76,208.21L252.53,208.18L253.30,208.15L253.66,208.87L252.94,209.35L252.23,209.63L251.52,209.90L250.97,209.81L250.42,209.72L249.54,209.60L249.84,209.17L249.05,208.63L250.02,208.09L250.89,208.15ZM284.46,202.14L285.14,202.27L285.81,202.40L285.19,202.60L284.56,202.80L283.92,203.00L283.27,203.20L282.89,203.88L282.46,204.57L283.43,205.64L282.65,205.46L281.88,205.29L281.11,205.13L281.04,204.57L281.21,203.74L281.73,203.25L282.21,202.77L282.78,202.61L283.35,202.46L283.91,202.30ZM266.33,200.66L266.97,200.59L267.60,200.52L268.06,200.66L268.84,200.90L269.62,201.14L269.09,201.38L268.54,201.63L267.98,201.89L267.39,202.04L266.79,202.19L266.18,202.35L265.35,202.02L264.54,201.70L263.75,201.38L263.67,200.80L264.27,200.79L264.88,200.77L265.48,200.75L265.91,200.71ZM296.94,200.57L297.19,200.66L298.44,201.14L297.97,201.25L297.50,201.37L297.02,201.48L296.06,201.31L295.11,201.14L294.53,200.66L294.06,200.29L294.78,200.36L295.50,200.43L296.22,200.50ZM348.37,282.96L349.21,282.63L350.05,282.29L351.19,281.47L351.96,280.92L352.48,280.58L352.93,280.92L352.74,281.40L351.90,281.95L350.95,282.69L349.79,283.17L348.72,284.18L347.51,284.72L346.94,284.52L346.37,284.32L346.90,283.84ZM338.63,281.74L337.92,282.42L336.79,282.69L336.98,281.74L337.29,280.72L338.14,280.99L339.19,280.86ZM353.32,281.33L353.10,281.13L353.95,280.24L353.68,279.70L354.39,279.28L355.03,278.19L354.82,277.16L355.04,276.47L355.21,276.95L355.36,277.64L355.70,277.98L355.59,278.60L356.68,278.60L356.91,278.67L355.73,279.63L355.27,279.90L354.92,280.24ZM333.75,263.06L334.61,263.06L335.09,261.69L335.74,261.14L336.67,260.59L336.95,260.66L337.66,260.83L338.37,261.00L339.11,261.14L338.53,262.03L338.11,262.93L338.32,263.41L339.11,263.89L340.00,264.71L340.67,264.85L341.29,264.30L341.56,263.41L341.72,262.03L341.98,261.34L342.53,260.18L342.97,261.34L342.83,262.38L343.37,262.58L343.76,263.06L343.78,264.10L343.78,265.13L344.19,265.95L345.15,266.85L345.18,268.01L345.88,268.22L346.22,269.60L346.60,270.28L346.36,271.14L346.10,272.00L345.65,273.38L344.68,274.75L343.81,275.44L343.22,276.13L341.99,277.50L341.45,278.53L340.68,278.70L339.91,278.87L338.84,279.63L338.36,279.22L337.44,279.42L336.50,279.15L335.93,278.67L336.06,277.85L335.84,277.16L335.29,277.16L335.91,276.13L336.20,275.44L335.34,275.78L334.51,276.68L334.32,276.47L334.29,275.23L333.53,274.75L332.82,274.41L332.10,274.48L331.37,274.55L330.60,274.75L329.83,274.96L328.54,275.44L328.02,276.06L326.92,276.06L326.06,276.13L324.69,276.82L323.59,276.82L323.38,276.33L323.42,275.78L324.16,274.41L324.30,273.03L324.48,272.00L324.47,270.63L324.41,269.60L324.51,268.74L324.61,267.88L325.18,267.88L325.85,267.33L326.78,266.91L327.68,266.64L328.59,266.36L329.55,265.81L330.07,265.13L330.70,264.10L331.67,263.41L332.35,262.72L333.28,262.24ZM353.81,266.64L354.50,267.33L355.19,268.01L354.87,268.15L354.31,267.53L353.74,266.91ZM361.90,264.78L362.68,264.65L362.48,265.26L361.82,265.13ZM356.03,263.06L356.46,263.27L356.76,264.30L356.43,263.96ZM332.75,258.94L333.83,258.53L333.34,258.87L332.66,259.32L331.98,259.76L331.83,259.56ZM329.58,258.53L330.40,258.46L331.22,258.39L331.20,258.73L330.38,258.80L329.56,258.87L328.39,258.87L327.23,258.87L326.65,258.73L326.68,258.39L327.54,258.53L328.71,258.46ZM352.27,258.94L351.59,258.42L350.91,257.91L350.67,257.22L351.78,257.91L352.88,258.59L353.65,259.63L352.96,259.28ZM345.72,257.01L345.48,257.91L345.92,258.25L346.33,258.94L346.95,259.63L347.21,259.97L346.63,259.90L345.78,259.69L345.00,258.80L344.18,258.11L343.46,258.39L343.12,258.94L342.64,259.14L341.78,259.01L340.96,258.39L340.36,258.53L340.24,257.91L340.62,257.43L340.10,256.33L339.07,255.91L338.22,255.50L337.64,255.36L337.05,255.57L336.79,254.68L337.68,254.26L336.92,254.26L336.24,253.44L337.12,253.03L337.99,253.30L338.20,254.47L338.82,255.02L340.03,253.78L340.61,253.92L341.33,254.23L342.05,254.54L343.20,255.02L344.34,255.71L344.76,256.53ZM348.09,256.53L347.18,257.08L346.32,256.88L346.34,256.53L347.23,256.26L348.14,255.64L348.55,255.71ZM334.55,255.23L334.45,254.81L335.26,254.92L336.08,255.02L335.89,255.36L335.22,255.29ZM331.37,255.91L330.60,255.98L330.36,254.61L330.01,254.81L329.97,255.67L329.94,256.53L329.41,256.53L329.40,255.36L329.07,254.81L329.31,254.47L329.70,253.09L329.87,252.54L330.12,252.54L330.27,253.64L330.86,253.37L331.68,253.37L331.44,253.44L330.55,254.06L331.11,255.09ZM334.77,251.72L334.49,252.47L334.95,253.30L334.32,252.96L334.19,252.20L334.18,251.58ZM332.20,246.91L332.71,246.08L333.07,246.84L333.41,247.59L333.18,248.49L332.79,248.90L332.00,248.28L330.99,248.07L330.81,247.94L331.65,247.39ZM332.11,245.87L331.29,246.42L330.80,245.53L330.55,244.71L331.57,245.05L332.30,244.84L332.68,245.67ZM329.03,240.03L330.01,240.03L330.23,241.40L329.93,242.09L330.36,243.12L331.61,243.81L331.34,243.95L330.09,243.26L329.53,242.92L328.95,242.09L328.85,241.06ZM329.05,236.59L328.79,237.62L328.32,236.94L328.40,236.18L328.46,235.42L329.06,235.56ZM331.89,230.40L331.68,229.85L332.15,229.37L332.93,229.92L333.07,231.16L332.45,231.30ZM335.35,226.76L335.54,226.28L335.09,225.26L334.78,224.44L335.34,224.30L336.36,225.60L336.26,226.42L336.70,227.38L336.82,228.68L336.30,228.75L335.81,228.96L335.32,229.17L334.51,229.72L334.19,229.55L334.29,229.85L333.59,230.20L333.26,230.06L333.25,229.37L333.70,229.30L333.44,229.17L332.89,229.17L332.09,229.37L332.00,229.03L332.78,228.27L333.48,228.31L334.19,228.34L334.58,228.00L334.53,227.31ZM334.04,223.55L334.02,223.01L334.49,223.01L334.11,222.33L333.84,221.52L334.83,222.03L335.82,222.54L336.66,223.01L336.36,223.45L336.06,223.89L334.89,223.55L334.50,224.23ZM331.30,217.84L330.58,217.01L329.84,216.19L329.63,215.67L330.76,216.52L331.70,217.84L333.39,219.04L332.87,219.17L333.53,220.01L334.17,220.85L333.61,221.18L332.99,220.34L332.35,219.50L331.84,218.67ZM333.92,205.13L334.38,205.41L334.05,205.46L333.57,205.29ZM317.51,203.20L317.00,203.29L316.48,203.38L315.95,203.47L315.16,203.38L314.37,203.29L313.58,203.20L313.16,202.67L313.81,202.67L314.45,202.67L315.10,202.67L316.30,202.93Z" fill="none" stroke="#2a2a2a" stroke-width="0.35" stroke-linejoin="round"/>
<path d="M199.60,303.80L202.00,303.30L205.00,303.50L208.00,302.80L211.60,302.00L216.00,301.80L220.00,301.50L224.00,301.20L228.40,301.40L229.80,300.60L230.60,298.50L232.20,296.50L233.40,296.20L232.80,297.50L231.80,298.50L232.20,300.20L234.00,301.80L236.00,303.50L238.00,304.60L242.00,304.20L246.00,304.80L250.00,303.50L253.60,301.20L257.00,300.60L260.80,299.90L266.00,299.60L271.60,299.00L277.00,298.30L282.40,297.60L286.00,298.60L288.70,299.90L291.40,298.10L298.00,298.30L304.00,298.10L311.00,297.80L318.40,297.60L322.00,298.20L325.60,299.00L329.20,300.40L324.00,303.00L318.40,306.20L316.60,309.50L203.00,309.50L201.00,306.50Z" fill="#fff" stroke="#2a2a2a" stroke-width="0.35" stroke-linejoin="round"/>
<path d="M284.35,222.20L284.87,220.98L285.60,220.78L286.34,220.64L287.09,220.51L287.69,221.86L287.07,222.03L286.46,222.20L286.85,223.21L287.75,223.89L288.21,225.26L288.65,226.08L289.07,227.11L288.31,227.28L287.55,227.45L286.37,226.97L286.35,226.11L286.32,225.26L285.54,224.03L284.73,223.21Z" fill="#98b4e2" stroke="#2a2a2a" stroke-width="0.35"/>
<path d="M211.94,220.71L212.98,220.11L214.02,219.50L215.08,219.44L216.13,219.37L215.95,220.11L215.77,220.85L215.12,220.85L214.47,220.85L213.63,220.80L212.78,220.76Z" fill="#ffffff" stroke="#555" stroke-width="0.25"/>
<path d="M212.76,224.10L213.47,222.81L214.20,221.52L215.12,221.18L214.71,222.20L213.66,223.55Z" fill="#ffffff" stroke="#555" stroke-width="0.25"/>
<path d="M215.58,221.32L216.39,221.25L217.20,221.18L217.73,221.86L216.49,223.08L215.91,223.21L215.63,222.54L215.63,221.86Z" fill="#ffffff" stroke="#555" stroke-width="0.25"/>
<path d="M215.08,224.17L215.98,223.89L216.88,223.62L217.77,223.35L217.38,223.55L216.60,223.89L215.81,224.23Z" fill="#ffffff" stroke="#555" stroke-width="0.25"/>
<path d="M217.41,223.01L217.96,222.67L218.66,222.54L219.37,222.40L219.36,222.87L218.39,222.94Z" fill="#ffffff" stroke="#555" stroke-width="0.25"/>
<path d="M278.36,252.96L279.53,252.54L279.82,253.44L279.23,254.54L278.18,254.13L278.24,253.09Z" fill="#ffffff" stroke="#555" stroke-width="0.25"/>
<path d="M276.71,255.16L277.18,255.16L277.40,256.30L277.62,257.45L277.83,258.59L277.42,258.80L277.14,258.01L276.86,257.22L276.79,256.19Z" fill="#ffffff" stroke="#555" stroke-width="0.25"/>
<path d="M279.45,259.28L279.74,259.28L279.87,260.31L279.99,261.34L280.11,262.38L279.81,262.65L279.67,261.83L279.52,261.00L279.48,260.14Z" fill="#ffffff" stroke="#555" stroke-width="0.25"/>
<path d="M311.63,217.38L311.95,216.95L312.25,216.52L312.34,215.70L312.40,214.89L312.80,214.76L313.09,215.54L312.78,216.19L312.46,216.85L312.11,217.51Z" fill="#ffffff" stroke="#555" stroke-width="0.25"/>
<path d="M273.43,212.02L273.50,211.26L274.12,210.95L274.82,211.39L274.08,211.83Z" fill="#ffffff" stroke="#555" stroke-width="0.25"/>
<path d="M275.61,211.39L275.60,210.46L276.04,210.40L276.27,211.26Z" fill="#ffffff" stroke="#555" stroke-width="0.25"/>
<path d="M290.03,220.85L290.81,220.85L291.59,220.85L291.82,222.20L291.30,222.43L290.79,222.67L290.20,221.86Z" fill="#ffffff" stroke="#555" stroke-width="0.25"/>
<path d="M297.89,221.05L298.55,220.71L299.56,220.64L300.57,220.58L300.67,220.85L299.94,220.98L299.21,221.12L298.48,221.25Z" fill="#ffffff" stroke="#555" stroke-width="0.25"/>
<path d="M204.12,208.93L205.01,208.03L205.81,207.88L206.61,207.73L207.22,207.88L207.85,208.03L206.63,208.63L205.79,208.73L204.96,208.83Z" fill="#ffffff" stroke="#555" stroke-width="0.25"/>
<path d="M205.54,211.39L205.80,211.08L206.98,210.77L208.10,210.52L209.21,210.27L209.97,210.46L209.04,210.77L208.10,211.08L207.25,211.18L206.39,211.28Z" fill="#ffffff" stroke="#555" stroke-width="0.25"/>
<path d="M209.52,218.30L210.06,217.31L210.64,216.33L211.57,216.00L211.20,217.08L210.85,218.17L210.18,218.24Z" fill="#ffffff" stroke="#555" stroke-width="0.25"/>
</g>
<path d="M315.66,308.20L317.62,307.64L319.87,306.87L322.37,305.94L325.04,304.84L327.81,303.61L330.50,302.30L332.98,300.93L335.28,299.52L337.48,298.07L339.61,296.57L341.68,295.04L343.70,293.48L345.66,291.90L347.53,290.28L349.32,288.65L351.00,287.00L352.53,285.33L353.98,283.64L355.36,281.95L356.65,280.24L357.81,278.53L358.87,276.82L359.83,275.10L360.69,273.38L361.43,271.66L362.06,269.94L362.57,268.22L363.03,266.50L363.46,264.78L363.85,263.06L364.17,261.34L364.42,259.63L364.61,257.91L364.75,256.19L364.85,254.47L364.90,252.75L364.85,251.03L364.75,249.31L364.61,247.59L364.42,245.87L364.17,244.16L363.85,242.44L363.46,240.72L363.03,239.00L362.57,237.28L362.06,235.56L361.43,233.84L360.69,232.12L359.83,230.40L358.87,228.68L357.81,226.97L356.65,225.26L355.36,223.55L353.98,221.86L352.53,220.17L351.00,218.50L349.32,216.85L347.53,215.22L345.66,213.60L343.70,212.02L341.68,210.46L339.61,208.93L337.48,207.43L335.28,205.98L332.98,204.57L330.50,203.20L327.81,201.89L325.04,200.66L322.37,199.56L319.87,198.63L317.62,197.86L315.66,197.30L203.64,197.30L201.68,197.86L199.43,198.63L196.93,199.56L194.26,200.66L191.49,201.89L188.80,203.20L186.32,204.57L184.02,205.98L181.82,207.43L179.69,208.93L177.62,210.46L175.60,212.02L173.64,213.60L171.77,215.22L169.98,216.85L168.30,218.50L166.77,220.17L165.32,221.86L163.94,223.55L162.65,225.26L161.49,226.97L160.43,228.68L159.47,230.40L158.61,232.12L157.87,233.84L157.24,235.56L156.73,237.28L156.27,239.00L155.84,240.72L155.45,242.44L155.13,244.16L154.88,245.87L154.69,247.59L154.55,249.31L154.45,251.03L154.40,252.75L154.45,254.47L154.55,256.19L154.69,257.91L154.88,259.63L155.13,261.34L155.45,263.06L155.84,264.78L156.27,266.50L156.73,268.22L157.24,269.94L157.87,271.66L158.61,273.38L159.47,275.10L160.43,276.82L161.49,278.53L162.65,280.24L163.94,281.95L165.32,283.64L166.77,285.33L168.30,287.00L169.98,288.65L171.77,290.28L173.64,291.90L175.60,293.48L177.62,295.04L179.69,296.57L181.82,298.07L184.02,299.52L186.32,300.93L188.80,302.30L191.49,303.61L194.26,304.84L196.93,305.94L199.43,306.87L201.68,307.64L203.64,308.20Z" fill="none" stroke="#333" stroke-width="0.6"/>
<text x="210.70" y="211.30" font-size="5" font-weight="bold" fill="#fff" text-anchor="middle">BONA</text>
<text x="207.20" y="225.80" font-size="5" font-weight="bold" fill="#fff" text-anchor="middle">TENA</text>
<text x="205.00" y="238.10" font-size="5" font-weight="bold" fill="#fff" text-anchor="middle">CEAM</text>
<text x="221.70" y="250.40" font-size="5" font-weight="bold" fill="#fff" text-anchor="middle">NHSA</text>
<text x="225.70" y="266.30" font-size="5" font-weight="bold" fill="#fff" text-anchor="middle">SHSA</text>
<text x="254.70" y="211.30" font-size="5" font-weight="bold" fill="#fff" text-anchor="middle">EURO</text>
<text x="276.70" y="233.30" font-size="5" font-weight="bold" fill="#fff" text-anchor="middle">MIDE</text>
<text x="268.80" y="244.70" font-size="5" font-weight="bold" fill="#fff" text-anchor="middle">NHAF</text>
<text x="275.40" y="263.20" font-size="5" font-weight="bold" fill="#fff" text-anchor="middle">SHAF</text>
<text x="304.90" y="210.80" font-size="5" font-weight="bold" fill="#fff" text-anchor="middle">BOAS</text>
<text x="305.30" y="224.50" font-size="5" font-weight="bold" fill="#fff" text-anchor="middle">CEAS</text>
<text x="309.30" y="238.10" font-size="5" font-weight="bold" fill="#fff" text-anchor="middle">SEAS</text>
<text x="332.60" y="255.30" font-size="5" font-weight="bold" fill="#fff" text-anchor="middle">EQAS</text>
<text x="337.00" y="271.10" font-size="5" font-weight="bold" fill="#fff" text-anchor="middle">AUST</text>
</svg>
</body></html>
